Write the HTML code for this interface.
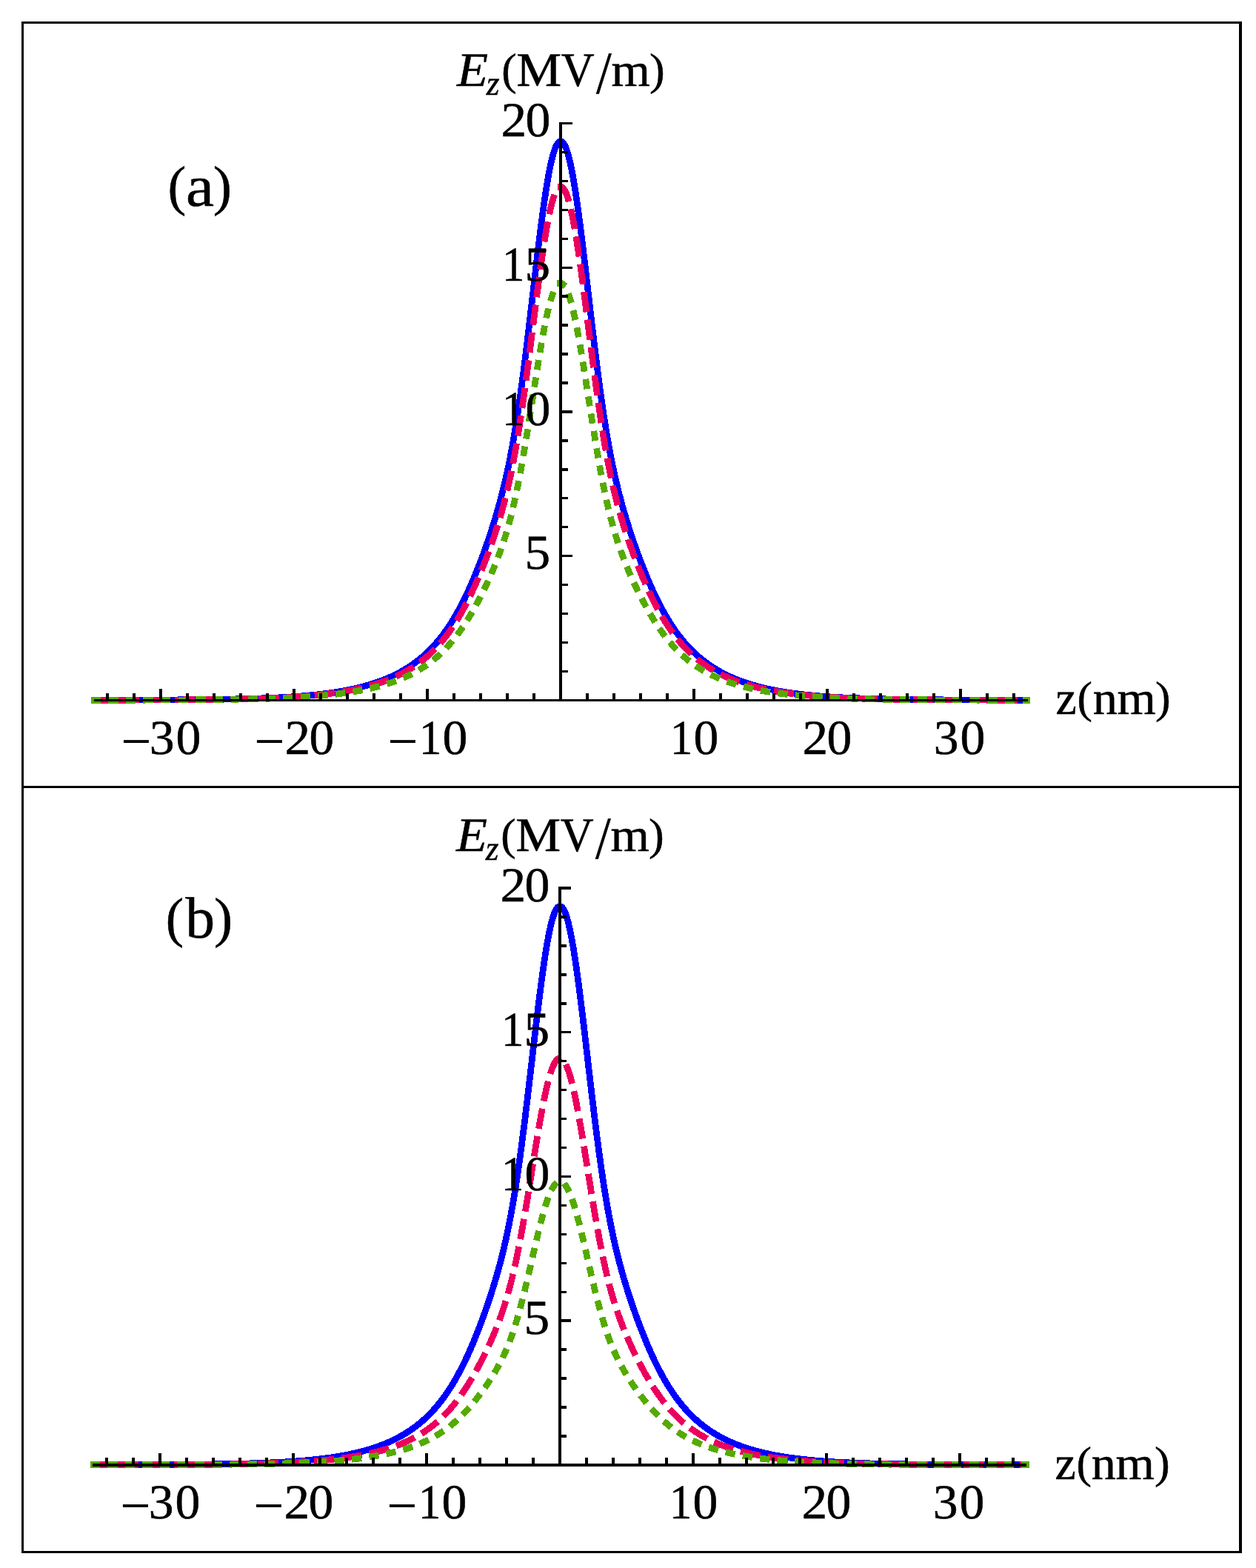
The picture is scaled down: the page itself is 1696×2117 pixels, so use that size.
<!DOCTYPE html>
<html lang="en">
<head>
<meta charset="utf-8">
<title>Ez field profiles</title>
<style>
html,body{margin:0;padding:0;background:#fff;}
body{width:1696px;height:2117px;overflow:hidden;}
svg{display:block;}
</style>
</head>
<body>
<svg width="1696" height="2117" viewBox="0 0 1696 2117">
<rect x="0" y="0" width="1696" height="2117" fill="#fff"/>
<g fill="#000" shape-rendering="crispEdges">
<rect x="29" y="29" width="1648" height="3"/>
<rect x="29" y="2094" width="1648" height="3"/>
<rect x="29" y="29" width="3" height="2068"/>
<rect x="1673" y="29" width="4" height="2068"/>
<rect x="29" y="1061" width="1648" height="3"/>
</g>
<g fill="none" stroke-width="8.7" stroke-linecap="square" stroke-linejoin="round" shape-rendering="crispEdges">
<path stroke="#0000ff" d="M127.00 945.25L128.80 945.24L130.60 945.24L132.40 945.24L134.20 945.24L136.00 945.23L137.80 945.23L139.60 945.23L141.40 945.23L143.20 945.22L145.00 945.22L146.80 945.22L148.60 945.21L150.40 945.21L152.20 945.21L154.00 945.20L155.80 945.20L157.60 945.20L159.40 945.19L161.20 945.19L163.00 945.18L164.80 945.18L166.60 945.17L168.40 945.17L170.20 945.17L172.00 945.16L173.80 945.16L175.60 945.15L177.40 945.15L179.20 945.14L181.00 945.14L182.80 945.13L184.60 945.13L186.40 945.12L188.20 945.11L190.00 945.11L191.80 945.10L193.60 945.10L195.40 945.09L197.20 945.08L199.00 945.08L200.80 945.07L202.60 945.06L204.40 945.05L206.20 945.05L208.00 945.04L209.80 945.03L211.60 945.02L213.40 945.01L215.20 945.00L217.00 945.00L218.80 944.99L220.60 944.98L222.40 944.97L224.20 944.96L226.00 944.95L227.80 944.94L229.60 944.93L231.40 944.92L233.20 944.90L235.00 944.89L236.80 944.88L238.60 944.87L240.40 944.86L242.20 944.84L244.00 944.83L245.80 944.82L247.60 944.80L249.40 944.79L251.20 944.77L253.00 944.76L254.80 944.74L256.60 944.73L258.40 944.71L260.20 944.69L262.00 944.68L263.80 944.66L265.60 944.64L267.40 944.62L269.20 944.60L271.00 944.59L272.80 944.56L274.60 944.54L276.40 944.52L278.20 944.50L280.00 944.48L281.80 944.46L283.60 944.43L285.40 944.41L287.20 944.38L289.00 944.36L290.80 944.33L292.60 944.31L294.40 944.28L296.20 944.25L298.00 944.22L299.80 944.19L301.60 944.16L303.40 944.13L305.20 944.10L307.00 944.07L308.80 944.03L310.60 944.00L312.40 943.96L314.20 943.92L316.00 943.89L317.80 943.85L319.60 943.81L321.40 943.77L323.20 943.73L325.00 943.68L326.80 943.64L328.60 943.59L330.40 943.55L332.20 943.50L334.00 943.45L335.80 943.40L337.60 943.35L339.40 943.30L341.20 943.24L343.00 943.19L344.80 943.13L346.60 943.07L348.40 943.01L350.20 942.95L352.00 942.89L353.80 942.82L355.60 942.75L357.40 942.68L359.20 942.61L361.00 942.54L362.80 942.47L364.60 942.39L366.40 942.31L368.20 942.23L370.00 942.15L371.80 942.07L373.60 941.98L375.40 941.89L377.20 941.80L379.00 941.70L380.80 941.61L382.60 941.51L384.40 941.41L386.20 941.30L388.00 941.19L389.80 941.08L391.60 940.97L393.40 940.86L395.20 940.74L397.00 940.61L398.80 940.49L400.60 940.35L402.40 940.22L404.20 940.08L406.00 939.94L407.80 939.79L409.60 939.64L411.40 939.49L413.20 939.33L415.00 939.16L416.80 939.00L418.60 938.83L420.40 938.65L422.20 938.47L424.00 938.29L425.80 938.10L427.60 937.90L429.40 937.70L431.20 937.50L433.00 937.29L434.80 937.07L436.60 936.85L438.40 936.63L440.20 936.39L442.00 936.15L443.80 935.91L445.60 935.66L447.40 935.40L449.20 935.14L451.00 934.87L452.80 934.59L454.60 934.30L456.40 934.01L458.20 933.71L460.00 933.40L461.80 933.09L463.60 932.77L465.40 932.43L467.20 932.09L469.00 931.75L470.80 931.39L472.60 931.02L474.40 930.64L476.20 930.26L478.00 929.86L479.80 929.46L481.60 929.04L483.40 928.61L485.20 928.17L487.00 927.72L488.80 927.26L490.60 926.79L492.40 926.30L494.20 925.80L496.00 925.29L497.80 924.77L499.60 924.23L501.40 923.68L503.20 923.12L505.00 922.53L506.80 921.94L508.60 921.33L510.40 920.70L512.20 920.06L514.00 919.40L515.80 918.72L517.60 918.02L519.40 917.31L521.20 916.58L523.00 915.83L524.80 915.06L526.60 914.27L528.40 913.45L530.20 912.62L532.00 911.76L533.80 910.88L535.60 909.98L537.40 909.05L539.20 908.10L541.00 907.12L542.80 906.12L544.60 905.09L546.40 904.03L548.20 902.94L550.00 901.83L551.80 900.68L553.60 899.50L555.40 898.29L557.20 897.05L559.00 895.77L560.80 894.45L562.60 893.10L564.40 891.71L566.20 890.29L568.00 888.82L569.80 887.31L571.60 885.76L573.40 884.16L575.20 882.52L577.00 880.84L578.80 879.10L580.60 877.32L582.40 875.48L584.20 873.59L586.00 871.65L587.80 869.65L589.60 867.59L591.40 865.47L593.20 863.29L595.00 861.05L596.80 858.74L598.60 856.36L600.40 853.92L602.20 851.41L604.00 848.83L605.80 846.17L607.60 843.44L609.40 840.63L611.20 837.75L613.00 834.79L614.80 831.74L616.60 828.62L618.40 825.41L620.20 822.11L622.00 818.73L623.80 815.27L625.60 811.72L627.40 808.08L629.20 804.35L631.00 800.54L632.80 796.63L634.60 792.64L636.40 788.56L638.20 784.40L640.00 780.14L641.80 775.81L643.60 771.38L645.40 766.88L647.20 762.28L649.00 757.61L650.80 752.84L652.60 747.98L654.40 743.03L656.20 737.99L658.00 732.85L659.80 727.60L661.60 722.23L663.40 716.75L665.20 711.14L667.00 705.39L668.80 699.49L670.60 693.43L672.40 687.19L674.20 680.76L676.00 674.11L677.80 667.23L679.60 660.09L681.40 652.66L683.20 644.92L685.00 636.83L686.80 628.36L688.60 619.47L690.40 610.14L692.20 600.34L694.00 590.05L695.80 579.26L697.60 567.96L699.40 556.15L701.20 543.83L703.00 531.04L704.80 517.78L706.60 504.10L708.40 490.01L710.20 475.56L712.00 460.79L713.80 445.74L715.60 430.48L717.40 415.07L719.20 399.57L721.00 384.05L722.80 368.61L724.60 353.31L726.40 338.24L728.20 323.48L730.00 309.12L730.36 306.31L730.72 303.51L731.08 300.74L731.44 297.98L731.80 295.25L732.16 292.54L732.52 289.86L732.88 287.19L733.24 284.56L733.60 281.95L733.96 279.36L734.32 276.80L734.68 274.27L735.04 271.77L735.40 269.29L735.76 266.85L736.12 264.43L736.48 262.04L736.84 259.69L737.20 257.37L737.56 255.08L737.92 252.82L738.28 250.59L738.64 248.40L739.00 246.24L739.36 244.12L739.72 242.04L740.08 239.99L740.44 237.97L740.80 236.00L741.16 234.06L741.52 232.15L741.88 230.29L742.24 228.47L742.60 226.68L742.96 224.94L743.32 223.23L743.68 221.57L744.04 219.95L744.40 218.36L744.76 216.82L745.12 215.33L745.48 213.87L745.84 212.46L746.20 211.09L746.56 209.76L746.92 208.48L747.28 207.24L747.64 206.04L748.00 204.89L748.36 203.79L748.72 202.73L749.08 201.71L749.44 200.74L749.80 199.82L750.16 198.94L750.52 198.10L750.88 197.31L751.24 196.57L751.60 195.88L751.96 195.23L752.32 194.62L752.68 194.07L753.04 193.55L753.40 193.09L753.76 192.67L754.12 192.30L754.48 191.97L754.84 191.69L755.20 191.46L755.56 191.27L755.92 191.14L756.28 191.14L756.64 191.14L757.00 191.14L757.36 191.14L757.72 191.14L758.08 191.14L758.44 191.27L758.80 191.46L759.16 191.69L759.52 191.97L759.88 192.30L760.24 192.67L760.60 193.09L760.96 193.55L761.32 194.07L761.68 194.62L762.04 195.23L762.40 195.88L762.76 196.57L763.12 197.31L763.48 198.10L763.84 198.94L764.20 199.82L764.56 200.74L764.92 201.71L765.28 202.73L765.64 203.79L766.00 204.89L766.36 206.04L766.72 207.24L767.08 208.48L767.44 209.76L767.80 211.09L768.16 212.46L768.52 213.87L768.88 215.33L769.24 216.82L769.60 218.36L769.96 219.95L770.32 221.57L770.68 223.23L771.04 224.94L771.40 226.68L771.76 228.47L772.12 230.29L772.48 232.15L772.84 234.06L773.20 236.00L773.56 237.97L773.92 239.99L774.28 242.04L774.64 244.12L775.00 246.24L775.36 248.40L775.72 250.59L776.08 252.82L776.44 255.08L776.80 257.37L777.16 259.69L777.52 262.04L777.88 264.43L778.24 266.85L778.60 269.29L778.96 271.77L779.32 274.27L779.68 276.80L780.04 279.36L780.40 281.95L780.76 284.56L781.12 287.19L781.48 289.86L781.84 292.54L782.20 295.25L782.56 297.98L782.92 300.74L783.28 303.51L783.64 306.31L784.00 309.12L785.80 323.48L787.60 338.24L789.40 353.31L791.20 368.61L793.00 384.05L794.80 399.57L796.60 415.07L798.40 430.48L800.20 445.74L802.00 460.79L803.80 475.56L805.60 490.01L807.40 504.10L809.20 517.78L811.00 531.04L812.80 543.83L814.60 556.15L816.40 567.96L818.20 579.26L820.00 590.05L821.80 600.34L823.60 610.14L825.40 619.47L827.20 628.36L829.00 636.83L830.80 644.92L832.60 652.66L834.40 660.09L836.20 667.23L838.00 674.11L839.80 680.76L841.60 687.19L843.40 693.43L845.20 699.49L847.00 705.39L848.80 711.14L850.60 716.75L852.40 722.23L854.20 727.60L856.00 732.85L857.80 737.99L859.60 743.03L861.40 747.98L863.20 752.84L865.00 757.61L866.80 762.28L868.60 766.88L870.40 771.38L872.20 775.81L874.00 780.14L875.80 784.40L877.60 788.56L879.40 792.64L881.20 796.63L883.00 800.54L884.80 804.35L886.60 808.08L888.40 811.72L890.20 815.27L892.00 818.73L893.80 822.11L895.60 825.41L897.40 828.62L899.20 831.74L901.00 834.79L902.80 837.75L904.60 840.63L906.40 843.44L908.20 846.17L910.00 848.83L911.80 851.41L913.60 853.92L915.40 856.36L917.20 858.74L919.00 861.05L920.80 863.29L922.60 865.47L924.40 867.59L926.20 869.65L928.00 871.65L929.80 873.59L931.60 875.48L933.40 877.32L935.20 879.10L937.00 880.84L938.80 882.52L940.60 884.16L942.40 885.76L944.20 887.31L946.00 888.82L947.80 890.29L949.60 891.71L951.40 893.10L953.20 894.45L955.00 895.77L956.80 897.05L958.60 898.29L960.40 899.50L962.20 900.68L964.00 901.83L965.80 902.94L967.60 904.03L969.40 905.09L971.20 906.12L973.00 907.12L974.80 908.10L976.60 909.05L978.40 909.98L980.20 910.88L982.00 911.76L983.80 912.62L985.60 913.45L987.40 914.27L989.20 915.06L991.00 915.83L992.80 916.58L994.60 917.31L996.40 918.02L998.20 918.72L1000.00 919.40L1001.80 920.06L1003.60 920.70L1005.40 921.33L1007.20 921.94L1009.00 922.53L1010.80 923.12L1012.60 923.68L1014.40 924.23L1016.20 924.77L1018.00 925.29L1019.80 925.80L1021.60 926.30L1023.40 926.79L1025.20 927.26L1027.00 927.72L1028.80 928.17L1030.60 928.61L1032.40 929.04L1034.20 929.46L1036.00 929.86L1037.80 930.26L1039.60 930.64L1041.40 931.02L1043.20 931.39L1045.00 931.75L1046.80 932.09L1048.60 932.43L1050.40 932.77L1052.20 933.09L1054.00 933.40L1055.80 933.71L1057.60 934.01L1059.40 934.30L1061.20 934.59L1063.00 934.87L1064.80 935.14L1066.60 935.40L1068.40 935.66L1070.20 935.91L1072.00 936.15L1073.80 936.39L1075.60 936.63L1077.40 936.85L1079.20 937.07L1081.00 937.29L1082.80 937.50L1084.60 937.70L1086.40 937.90L1088.20 938.10L1090.00 938.29L1091.80 938.47L1093.60 938.65L1095.40 938.83L1097.20 939.00L1099.00 939.16L1100.80 939.33L1102.60 939.49L1104.40 939.64L1106.20 939.79L1108.00 939.94L1109.80 940.08L1111.60 940.22L1113.40 940.35L1115.20 940.49L1117.00 940.61L1118.80 940.74L1120.60 940.86L1122.40 940.97L1124.20 941.08L1126.00 941.19L1127.80 941.30L1129.60 941.41L1131.40 941.51L1133.20 941.61L1135.00 941.70L1136.80 941.80L1138.60 941.89L1140.40 941.98L1142.20 942.07L1144.00 942.15L1145.80 942.23L1147.60 942.31L1149.40 942.39L1151.20 942.47L1153.00 942.54L1154.80 942.61L1156.60 942.68L1158.40 942.75L1160.20 942.82L1162.00 942.89L1163.80 942.95L1165.60 943.01L1167.40 943.07L1169.20 943.13L1171.00 943.19L1172.80 943.24L1174.60 943.30L1176.40 943.35L1178.20 943.40L1180.00 943.45L1181.80 943.50L1183.60 943.55L1185.40 943.59L1187.20 943.64L1189.00 943.68L1190.80 943.73L1192.60 943.77L1194.40 943.81L1196.20 943.85L1198.00 943.89L1199.80 943.92L1201.60 943.96L1203.40 944.00L1205.20 944.03L1207.00 944.07L1208.80 944.10L1210.60 944.13L1212.40 944.16L1214.20 944.19L1216.00 944.22L1217.80 944.25L1219.60 944.28L1221.40 944.31L1223.20 944.33L1225.00 944.36L1226.80 944.38L1228.60 944.41L1230.40 944.43L1232.20 944.46L1234.00 944.48L1235.80 944.50L1237.60 944.52L1239.40 944.54L1241.20 944.56L1243.00 944.59L1244.80 944.60L1246.60 944.62L1248.40 944.64L1250.20 944.66L1252.00 944.68L1253.80 944.69L1255.60 944.71L1257.40 944.73L1259.20 944.74L1261.00 944.76L1262.80 944.77L1264.60 944.79L1266.40 944.80L1268.20 944.82L1270.00 944.83L1271.80 944.84L1273.60 944.86L1275.40 944.87L1277.20 944.88L1279.00 944.89L1280.80 944.90L1282.60 944.92L1284.40 944.93L1286.20 944.94L1288.00 944.95L1289.80 944.96L1291.60 944.97L1293.40 944.98L1295.20 944.99L1297.00 945.00L1298.80 945.00L1300.60 945.01L1302.40 945.02L1304.20 945.03L1306.00 945.04L1307.80 945.05L1309.60 945.05L1311.40 945.06L1313.20 945.07L1315.00 945.08L1316.80 945.08L1318.60 945.09L1320.40 945.10L1322.20 945.10L1324.00 945.11L1325.80 945.11L1327.60 945.12L1329.40 945.13L1331.20 945.13L1333.00 945.14L1334.80 945.14L1336.60 945.15L1338.40 945.15L1340.20 945.16L1342.00 945.16L1343.80 945.17L1345.60 945.17L1347.40 945.17L1349.20 945.18L1351.00 945.18L1352.80 945.19L1354.60 945.19L1356.40 945.20L1358.20 945.20L1360.00 945.20L1361.80 945.21L1363.60 945.21L1365.40 945.21L1367.20 945.22L1369.00 945.22L1370.80 945.22L1372.60 945.23L1374.40 945.23L1376.20 945.23L1378.00 945.23L1379.80 945.24L1381.60 945.24L1383.40 945.24L1385.20 945.24L1387.00 945.25"/>
<path stroke="#eb005e" stroke-dasharray="18.85 18.92" d="M127.00 945.25L128.80 945.25L130.60 945.25L132.40 945.25L134.20 945.25L136.00 945.24L137.80 945.24L139.60 945.24L141.40 945.23L143.20 945.23L145.00 945.23L146.80 945.23L148.60 945.22L150.40 945.22L152.20 945.22L154.00 945.21L155.80 945.21L157.60 945.21L159.40 945.20L161.20 945.20L163.00 945.20L164.80 945.19L166.60 945.19L168.40 945.18L170.20 945.18L172.00 945.18L173.80 945.17L175.60 945.17L177.40 945.16L179.20 945.16L181.00 945.15L182.80 945.15L184.60 945.14L186.40 945.14L188.20 945.13L190.00 945.13L191.80 945.12L193.60 945.12L195.40 945.11L197.20 945.10L199.00 945.10L200.80 945.09L202.60 945.08L204.40 945.08L206.20 945.07L208.00 945.06L209.80 945.06L211.60 945.05L213.40 945.04L215.20 945.03L217.00 945.02L218.80 945.02L220.60 945.01L222.40 945.00L224.20 944.99L226.00 944.98L227.80 944.97L229.60 944.96L231.40 944.95L233.20 944.94L235.00 944.93L236.80 944.92L238.60 944.91L240.40 944.90L242.20 944.88L244.00 944.87L245.80 944.86L247.60 944.85L249.40 944.83L251.20 944.82L253.00 944.81L254.80 944.79L256.60 944.78L258.40 944.76L260.20 944.75L262.00 944.73L263.80 944.72L265.60 944.70L267.40 944.68L269.20 944.66L271.00 944.65L272.80 944.63L274.60 944.61L276.40 944.59L278.20 944.57L280.00 944.55L281.80 944.53L283.60 944.51L285.40 944.48L287.20 944.46L289.00 944.44L290.80 944.41L292.60 944.39L294.40 944.36L296.20 944.34L298.00 944.31L299.80 944.29L301.60 944.26L303.40 944.23L305.20 944.20L307.00 944.17L308.80 944.14L310.60 944.11L312.40 944.07L314.20 944.04L316.00 944.00L317.80 943.97L319.60 943.93L321.40 943.90L323.20 943.86L325.00 943.82L326.80 943.78L328.60 943.74L330.40 943.69L332.20 943.65L334.00 943.60L335.80 943.56L337.60 943.51L339.40 943.46L341.20 943.41L343.00 943.36L344.80 943.31L346.60 943.26L348.40 943.20L350.20 943.14L352.00 943.08L353.80 943.03L355.60 942.96L357.40 942.90L359.20 942.84L361.00 942.77L362.80 942.70L364.60 942.63L366.40 942.56L368.20 942.49L370.00 942.41L371.80 942.33L373.60 942.25L375.40 942.17L377.20 942.09L379.00 942.00L380.80 941.91L382.60 941.82L384.40 941.73L386.20 941.63L388.00 941.53L389.80 941.43L391.60 941.33L393.40 941.22L395.20 941.11L397.00 941.00L398.80 940.88L400.60 940.76L402.40 940.63L404.20 940.51L406.00 940.38L407.80 940.24L409.60 940.10L411.40 939.96L413.20 939.82L415.00 939.67L416.80 939.51L418.60 939.36L420.40 939.19L422.20 939.03L424.00 938.86L425.80 938.69L427.60 938.51L429.40 938.32L431.20 938.14L433.00 937.94L434.80 937.74L436.60 937.54L438.40 937.33L440.20 937.12L442.00 936.90L443.80 936.68L445.60 936.45L447.40 936.21L449.20 935.97L451.00 935.72L452.80 935.46L454.60 935.20L456.40 934.93L458.20 934.66L460.00 934.37L461.80 934.09L463.60 933.79L465.40 933.48L467.20 933.17L469.00 932.85L470.80 932.52L472.60 932.18L474.40 931.84L476.20 931.48L478.00 931.12L479.80 930.75L481.60 930.36L483.40 929.97L485.20 929.57L487.00 929.15L488.80 928.73L490.60 928.30L492.40 927.85L494.20 927.39L496.00 926.92L497.80 926.44L499.60 925.95L501.40 925.44L503.20 924.92L505.00 924.39L506.80 923.84L508.60 923.28L510.40 922.70L512.20 922.11L514.00 921.51L515.80 920.88L517.60 920.25L519.40 919.59L521.20 918.92L523.00 918.23L524.80 917.52L526.60 916.79L528.40 916.04L530.20 915.28L532.00 914.49L533.80 913.68L535.60 912.85L537.40 912.00L539.20 911.13L541.00 910.23L542.80 909.31L544.60 908.36L546.40 907.39L548.20 906.39L550.00 905.36L551.80 904.31L553.60 903.23L555.40 902.11L557.20 900.97L559.00 899.80L560.80 898.59L562.60 897.35L564.40 896.07L566.20 894.76L568.00 893.41L569.80 892.03L571.60 890.60L573.40 889.14L575.20 887.63L577.00 886.08L578.80 884.49L580.60 882.85L582.40 881.16L584.20 879.42L586.00 877.64L587.80 875.80L589.60 873.91L591.40 871.96L593.20 869.96L595.00 867.90L596.80 865.78L598.60 863.60L600.40 861.35L602.20 859.05L604.00 856.67L605.80 854.23L607.60 851.72L609.40 849.14L611.20 846.49L613.00 843.77L614.80 840.98L616.60 838.10L618.40 835.15L620.20 832.13L622.00 829.02L623.80 825.84L625.60 822.58L627.40 819.23L629.20 815.81L631.00 812.31L632.80 808.72L634.60 805.05L636.40 801.30L638.20 797.48L640.00 793.57L641.80 789.59L643.60 785.52L645.40 781.38L647.20 777.16L649.00 772.86L650.80 768.49L652.60 764.02L654.40 759.48L656.20 754.84L658.00 750.12L659.80 745.29L661.60 740.37L663.40 735.33L665.20 730.18L667.00 724.90L668.80 719.48L670.60 713.91L672.40 708.18L674.20 702.26L676.00 696.16L677.80 689.83L679.60 683.27L681.40 676.45L683.20 669.34L685.00 661.91L686.80 654.12L688.60 645.96L690.40 637.39L692.20 628.38L694.00 618.93L695.80 609.02L697.60 598.63L699.40 587.78L701.20 576.47L703.00 564.71L704.80 552.54L706.60 539.96L708.40 527.02L710.20 513.74L712.00 500.17L713.80 486.35L715.60 472.33L717.40 458.17L719.20 443.93L721.00 429.67L722.80 415.48L724.60 401.43L726.40 387.58L728.20 374.02L730.00 360.83L730.36 358.25L730.72 355.68L731.08 353.13L731.44 350.60L731.80 348.09L732.16 345.60L732.52 343.13L732.88 340.69L733.24 338.26L733.60 335.87L733.96 333.49L734.32 331.14L734.68 328.81L735.04 326.51L735.40 324.24L735.76 321.99L736.12 319.77L736.48 317.58L736.84 315.42L737.20 313.28L737.56 311.18L737.92 309.10L738.28 307.06L738.64 305.05L739.00 303.07L739.36 301.12L739.72 299.20L740.08 297.32L740.44 295.47L740.80 293.65L741.16 291.87L741.52 290.12L741.88 288.41L742.24 286.73L742.60 285.09L742.96 283.49L743.32 281.92L743.68 280.40L744.04 278.90L744.40 277.45L744.76 276.04L745.12 274.66L745.48 273.32L745.84 272.02L746.20 270.77L746.56 269.55L746.92 268.37L747.28 267.23L747.64 266.13L748.00 265.08L748.36 264.06L748.72 263.09L749.08 262.15L749.44 261.26L749.80 260.41L750.16 259.60L750.52 258.84L750.88 258.11L751.24 257.43L751.60 256.79L751.96 256.19L752.32 255.64L752.68 255.13L753.04 254.66L753.40 254.23L753.76 253.85L754.12 253.50L754.48 253.20L754.84 252.95L755.20 252.73L755.56 252.56L755.92 252.44L756.28 252.44L756.64 252.44L757.00 252.44L757.36 252.44L757.72 252.44L758.08 252.44L758.44 252.56L758.80 252.73L759.16 252.95L759.52 253.20L759.88 253.50L760.24 253.85L760.60 254.23L760.96 254.66L761.32 255.13L761.68 255.64L762.04 256.19L762.40 256.79L762.76 257.43L763.12 258.11L763.48 258.84L763.84 259.60L764.20 260.41L764.56 261.26L764.92 262.15L765.28 263.09L765.64 264.06L766.00 265.08L766.36 266.13L766.72 267.23L767.08 268.37L767.44 269.55L767.80 270.77L768.16 272.02L768.52 273.32L768.88 274.66L769.24 276.04L769.60 277.45L769.96 278.90L770.32 280.40L770.68 281.92L771.04 283.49L771.40 285.09L771.76 286.73L772.12 288.41L772.48 290.12L772.84 291.87L773.20 293.65L773.56 295.47L773.92 297.32L774.28 299.20L774.64 301.12L775.00 303.07L775.36 305.05L775.72 307.06L776.08 309.10L776.44 311.18L776.80 313.28L777.16 315.42L777.52 317.58L777.88 319.77L778.24 321.99L778.60 324.24L778.96 326.51L779.32 328.81L779.68 331.14L780.04 333.49L780.40 335.87L780.76 338.26L781.12 340.69L781.48 343.13L781.84 345.60L782.20 348.09L782.56 350.60L782.92 353.13L783.28 355.68L783.64 358.25L784.00 360.83L785.80 374.02L787.60 387.58L789.40 401.43L791.20 415.48L793.00 429.67L794.80 443.93L796.60 458.17L798.40 472.33L800.20 486.35L802.00 500.17L803.80 513.74L805.60 527.02L807.40 539.96L809.20 552.54L811.00 564.71L812.80 576.47L814.60 587.78L816.40 598.63L818.20 609.02L820.00 618.93L821.80 628.38L823.60 637.39L825.40 645.96L827.20 654.12L829.00 661.91L830.80 669.34L832.60 676.45L834.40 683.27L836.20 689.83L838.00 696.16L839.80 702.26L841.60 708.18L843.40 713.91L845.20 719.48L847.00 724.90L848.80 730.18L850.60 735.33L852.40 740.37L854.20 745.29L856.00 750.12L857.80 754.84L859.60 759.48L861.40 764.02L863.20 768.49L865.00 772.86L866.80 777.16L868.60 781.38L870.40 785.52L872.20 789.59L874.00 793.57L875.80 797.48L877.60 801.30L879.40 805.05L881.20 808.72L883.00 812.31L884.80 815.81L886.60 819.23L888.40 822.58L890.20 825.84L892.00 829.02L893.80 832.13L895.60 835.15L897.40 838.10L899.20 840.98L901.00 843.77L902.80 846.49L904.60 849.14L906.40 851.72L908.20 854.23L910.00 856.67L911.80 859.05L913.60 861.35L915.40 863.60L917.20 865.78L919.00 867.90L920.80 869.96L922.60 871.96L924.40 873.91L926.20 875.80L928.00 877.64L929.80 879.42L931.60 881.16L933.40 882.85L935.20 884.49L937.00 886.08L938.80 887.63L940.60 889.14L942.40 890.60L944.20 892.03L946.00 893.41L947.80 894.76L949.60 896.07L951.40 897.35L953.20 898.59L955.00 899.80L956.80 900.97L958.60 902.11L960.40 903.23L962.20 904.31L964.00 905.36L965.80 906.39L967.60 907.39L969.40 908.36L971.20 909.31L973.00 910.23L974.80 911.13L976.60 912.00L978.40 912.85L980.20 913.68L982.00 914.49L983.80 915.28L985.60 916.04L987.40 916.79L989.20 917.52L991.00 918.23L992.80 918.92L994.60 919.59L996.40 920.25L998.20 920.88L1000.00 921.51L1001.80 922.11L1003.60 922.70L1005.40 923.28L1007.20 923.84L1009.00 924.39L1010.80 924.92L1012.60 925.44L1014.40 925.95L1016.20 926.44L1018.00 926.92L1019.80 927.39L1021.60 927.85L1023.40 928.30L1025.20 928.73L1027.00 929.15L1028.80 929.57L1030.60 929.97L1032.40 930.36L1034.20 930.75L1036.00 931.12L1037.80 931.48L1039.60 931.84L1041.40 932.18L1043.20 932.52L1045.00 932.85L1046.80 933.17L1048.60 933.48L1050.40 933.79L1052.20 934.09L1054.00 934.37L1055.80 934.66L1057.60 934.93L1059.40 935.20L1061.20 935.46L1063.00 935.72L1064.80 935.97L1066.60 936.21L1068.40 936.45L1070.20 936.68L1072.00 936.90L1073.80 937.12L1075.60 937.33L1077.40 937.54L1079.20 937.74L1081.00 937.94L1082.80 938.14L1084.60 938.32L1086.40 938.51L1088.20 938.69L1090.00 938.86L1091.80 939.03L1093.60 939.19L1095.40 939.36L1097.20 939.51L1099.00 939.67L1100.80 939.82L1102.60 939.96L1104.40 940.10L1106.20 940.24L1108.00 940.38L1109.80 940.51L1111.60 940.63L1113.40 940.76L1115.20 940.88L1117.00 941.00L1118.80 941.11L1120.60 941.22L1122.40 941.33L1124.20 941.43L1126.00 941.53L1127.80 941.63L1129.60 941.73L1131.40 941.82L1133.20 941.91L1135.00 942.00L1136.80 942.09L1138.60 942.17L1140.40 942.25L1142.20 942.33L1144.00 942.41L1145.80 942.49L1147.60 942.56L1149.40 942.63L1151.20 942.70L1153.00 942.77L1154.80 942.84L1156.60 942.90L1158.40 942.96L1160.20 943.03L1162.00 943.08L1163.80 943.14L1165.60 943.20L1167.40 943.26L1169.20 943.31L1171.00 943.36L1172.80 943.41L1174.60 943.46L1176.40 943.51L1178.20 943.56L1180.00 943.60L1181.80 943.65L1183.60 943.69L1185.40 943.74L1187.20 943.78L1189.00 943.82L1190.80 943.86L1192.60 943.90L1194.40 943.93L1196.20 943.97L1198.00 944.00L1199.80 944.04L1201.60 944.07L1203.40 944.11L1205.20 944.14L1207.00 944.17L1208.80 944.20L1210.60 944.23L1212.40 944.26L1214.20 944.29L1216.00 944.31L1217.80 944.34L1219.60 944.36L1221.40 944.39L1223.20 944.41L1225.00 944.44L1226.80 944.46L1228.60 944.48L1230.40 944.51L1232.20 944.53L1234.00 944.55L1235.80 944.57L1237.60 944.59L1239.40 944.61L1241.20 944.63L1243.00 944.65L1244.80 944.66L1246.60 944.68L1248.40 944.70L1250.20 944.72L1252.00 944.73L1253.80 944.75L1255.60 944.76L1257.40 944.78L1259.20 944.79L1261.00 944.81L1262.80 944.82L1264.60 944.83L1266.40 944.85L1268.20 944.86L1270.00 944.87L1271.80 944.88L1273.60 944.90L1275.40 944.91L1277.20 944.92L1279.00 944.93L1280.80 944.94L1282.60 944.95L1284.40 944.96L1286.20 944.97L1288.00 944.98L1289.80 944.99L1291.60 945.00L1293.40 945.01L1295.20 945.02L1297.00 945.02L1298.80 945.03L1300.60 945.04L1302.40 945.05L1304.20 945.06L1306.00 945.06L1307.80 945.07L1309.60 945.08L1311.40 945.08L1313.20 945.09L1315.00 945.10L1316.80 945.10L1318.60 945.11L1320.40 945.12L1322.20 945.12L1324.00 945.13L1325.80 945.13L1327.60 945.14L1329.40 945.14L1331.20 945.15L1333.00 945.15L1334.80 945.16L1336.60 945.16L1338.40 945.17L1340.20 945.17L1342.00 945.18L1343.80 945.18L1345.60 945.18L1347.40 945.19L1349.20 945.19L1351.00 945.20L1352.80 945.20L1354.60 945.20L1356.40 945.21L1358.20 945.21L1360.00 945.21L1361.80 945.22L1363.60 945.22L1365.40 945.22L1367.20 945.23L1369.00 945.23L1370.80 945.23L1372.60 945.23L1374.40 945.24L1376.20 945.24L1378.00 945.24L1379.80 945.25L1381.60 945.25L1383.40 945.25L1385.20 945.25L1387.00 945.25"/>
<path stroke="#55aa00" stroke-dasharray="4.67 18.94" d="M127.00 945.27L128.80 945.27L130.60 945.27L132.40 945.27L134.20 945.26L136.00 945.26L137.80 945.26L139.60 945.26L141.40 945.25L143.20 945.25L145.00 945.25L146.80 945.25L148.60 945.25L150.40 945.24L152.20 945.24L154.00 945.24L155.80 945.23L157.60 945.23L159.40 945.23L161.20 945.23L163.00 945.22L164.80 945.22L166.60 945.22L168.40 945.21L170.20 945.21L172.00 945.21L173.80 945.20L175.60 945.20L177.40 945.20L179.20 945.19L181.00 945.19L182.80 945.18L184.60 945.18L186.40 945.18L188.20 945.17L190.00 945.17L191.80 945.16L193.60 945.16L195.40 945.15L197.20 945.15L199.00 945.14L200.80 945.14L202.60 945.13L204.40 945.13L206.20 945.12L208.00 945.11L209.80 945.11L211.60 945.10L213.40 945.10L215.20 945.09L217.00 945.08L218.80 945.08L220.60 945.07L222.40 945.06L224.20 945.05L226.00 945.05L227.80 945.04L229.60 945.03L231.40 945.02L233.20 945.02L235.00 945.01L236.80 945.00L238.60 944.99L240.40 944.98L242.20 944.97L244.00 944.96L245.80 944.95L247.60 944.94L249.40 944.93L251.20 944.92L253.00 944.91L254.80 944.89L256.60 944.88L258.40 944.87L260.20 944.86L262.00 944.85L263.80 944.83L265.60 944.82L267.40 944.81L269.20 944.79L271.00 944.78L272.80 944.76L274.60 944.75L276.40 944.73L278.20 944.71L280.00 944.70L281.80 944.68L283.60 944.66L285.40 944.65L287.20 944.63L289.00 944.61L290.80 944.59L292.60 944.57L294.40 944.55L296.20 944.53L298.00 944.51L299.80 944.48L301.60 944.46L303.40 944.44L305.20 944.41L307.00 944.39L308.80 944.36L310.60 944.34L312.40 944.31L314.20 944.28L316.00 944.26L317.80 944.23L319.60 944.20L321.40 944.17L323.20 944.14L325.00 944.10L326.80 944.07L328.60 944.04L330.40 944.00L332.20 943.97L334.00 943.93L335.80 943.89L337.60 943.85L339.40 943.82L341.20 943.77L343.00 943.73L344.80 943.69L346.60 943.65L348.40 943.60L350.20 943.56L352.00 943.51L353.80 943.46L355.60 943.41L357.40 943.36L359.20 943.31L361.00 943.25L362.80 943.20L364.60 943.14L366.40 943.08L368.20 943.02L370.00 942.96L371.80 942.90L373.60 942.83L375.40 942.77L377.20 942.70L379.00 942.63L380.80 942.55L382.60 942.48L384.40 942.40L386.20 942.33L388.00 942.25L389.80 942.16L391.60 942.08L393.40 941.99L395.20 941.91L397.00 941.81L398.80 941.72L400.60 941.62L402.40 941.52L404.20 941.41L406.00 941.31L407.80 941.20L409.60 941.09L411.40 940.97L413.20 940.85L415.00 940.73L416.80 940.61L418.60 940.48L420.40 940.35L422.20 940.21L424.00 940.08L425.80 939.94L427.60 939.79L429.40 939.64L431.20 939.49L433.00 939.33L434.80 939.17L436.60 939.01L438.40 938.84L440.20 938.66L442.00 938.49L443.80 938.30L445.60 938.12L447.40 937.92L449.20 937.73L451.00 937.52L452.80 937.32L454.60 937.10L456.40 936.89L458.20 936.66L460.00 936.43L461.80 936.20L463.60 935.96L465.40 935.71L467.20 935.46L469.00 935.20L470.80 934.93L472.60 934.65L474.40 934.37L476.20 934.09L478.00 933.79L479.80 933.49L481.60 933.18L483.40 932.86L485.20 932.53L487.00 932.19L488.80 931.85L490.60 931.50L492.40 931.13L494.20 930.76L496.00 930.38L497.80 929.99L499.60 929.59L501.40 929.18L503.20 928.76L505.00 928.32L506.80 927.88L508.60 927.42L510.40 926.95L512.20 926.47L514.00 925.98L515.80 925.48L517.60 924.96L519.40 924.42L521.20 923.88L523.00 923.32L524.80 922.74L526.60 922.15L528.40 921.54L530.20 920.92L532.00 920.28L533.80 919.63L535.60 918.95L537.40 918.26L539.20 917.55L541.00 916.82L542.80 916.07L544.60 915.30L546.40 914.51L548.20 913.70L550.00 912.87L551.80 912.01L553.60 911.13L555.40 910.23L557.20 909.30L559.00 908.35L560.80 907.37L562.60 906.36L564.40 905.32L566.20 904.26L568.00 903.16L569.80 902.04L571.60 900.88L573.40 899.69L575.20 898.47L577.00 897.21L578.80 895.91L580.60 894.58L582.40 893.21L584.20 891.80L586.00 890.35L587.80 888.85L589.60 887.32L591.40 885.74L593.20 884.11L595.00 882.44L596.80 880.72L598.60 878.94L600.40 877.12L602.20 875.25L604.00 873.32L605.80 871.34L607.60 869.30L609.40 867.21L611.20 865.05L613.00 862.84L614.80 860.57L616.60 858.24L618.40 855.84L620.20 853.39L622.00 850.86L623.80 848.28L625.60 845.63L627.40 842.91L629.20 840.13L631.00 837.28L632.80 834.37L634.60 831.39L636.40 828.35L638.20 825.24L640.00 822.07L641.80 818.83L643.60 815.53L645.40 812.17L647.20 808.74L649.00 805.25L650.80 801.69L652.60 798.07L654.40 794.38L656.20 790.61L658.00 786.77L659.80 782.85L661.60 778.85L663.40 774.76L665.20 770.58L667.00 766.29L668.80 761.89L670.60 757.36L672.40 752.71L674.20 747.90L676.00 742.94L677.80 737.81L679.60 732.48L681.40 726.94L683.20 721.16L685.00 715.12L686.80 708.80L688.60 702.17L690.40 695.21L692.20 687.90L694.00 680.22L695.80 672.17L697.60 663.73L699.40 654.92L701.20 645.73L703.00 636.18L704.80 626.29L706.60 616.08L708.40 605.56L710.20 594.78L712.00 583.76L713.80 572.53L715.60 561.14L717.40 549.64L719.20 538.07L721.00 526.50L722.80 514.97L724.60 503.55L726.40 492.31L728.20 481.29L730.00 470.58L730.36 468.48L730.72 466.39L731.08 464.32L731.44 462.27L731.80 460.23L732.16 458.21L732.52 456.20L732.88 454.22L733.24 452.25L733.60 450.30L733.96 448.37L734.32 446.46L734.68 444.57L735.04 442.71L735.40 440.86L735.76 439.03L736.12 437.23L736.48 435.45L736.84 433.69L737.20 431.96L737.56 430.25L737.92 428.56L738.28 426.90L738.64 425.27L739.00 423.66L739.36 422.08L739.72 420.52L740.08 418.99L740.44 417.49L740.80 416.01L741.16 414.56L741.52 413.15L741.88 411.76L742.24 410.39L742.60 409.06L742.96 407.76L743.32 406.49L743.68 405.25L744.04 404.04L744.40 402.85L744.76 401.71L745.12 400.59L745.48 399.50L745.84 398.45L746.20 397.42L746.56 396.43L746.92 395.48L747.28 394.55L747.64 393.66L748.00 392.80L748.36 391.98L748.72 391.19L749.08 390.43L749.44 389.70L749.80 389.01L750.16 388.36L750.52 387.74L750.88 387.15L751.24 386.59L751.60 386.07L751.96 385.59L752.32 385.14L752.68 384.72L753.04 384.34L753.40 383.99L753.76 383.68L754.12 383.40L754.48 383.16L754.84 382.95L755.20 382.78L755.56 382.63L755.92 382.54L756.28 382.54L756.64 382.54L757.00 382.54L757.36 382.54L757.72 382.54L758.08 382.54L758.44 382.63L758.80 382.78L759.16 382.95L759.52 383.16L759.88 383.40L760.24 383.68L760.60 383.99L760.96 384.34L761.32 384.72L761.68 385.14L762.04 385.59L762.40 386.07L762.76 386.59L763.12 387.15L763.48 387.74L763.84 388.36L764.20 389.01L764.56 389.70L764.92 390.43L765.28 391.19L765.64 391.98L766.00 392.80L766.36 393.66L766.72 394.55L767.08 395.48L767.44 396.43L767.80 397.42L768.16 398.45L768.52 399.50L768.88 400.59L769.24 401.71L769.60 402.85L769.96 404.04L770.32 405.25L770.68 406.49L771.04 407.76L771.40 409.06L771.76 410.39L772.12 411.76L772.48 413.15L772.84 414.56L773.20 416.01L773.56 417.49L773.92 418.99L774.28 420.52L774.64 422.08L775.00 423.66L775.36 425.27L775.72 426.90L776.08 428.56L776.44 430.25L776.80 431.96L777.16 433.69L777.52 435.45L777.88 437.23L778.24 439.03L778.60 440.86L778.96 442.71L779.32 444.57L779.68 446.46L780.04 448.37L780.40 450.30L780.76 452.25L781.12 454.22L781.48 456.20L781.84 458.21L782.20 460.23L782.56 462.27L782.92 464.32L783.28 466.39L783.64 468.48L784.00 470.58L785.80 481.29L787.60 492.31L789.40 503.55L791.20 514.97L793.00 526.50L794.80 538.07L796.60 549.64L798.40 561.14L800.20 572.53L802.00 583.76L803.80 594.78L805.60 605.56L807.40 616.08L809.20 626.29L811.00 636.18L812.80 645.73L814.60 654.92L816.40 663.73L818.20 672.17L820.00 680.22L821.80 687.90L823.60 695.21L825.40 702.17L827.20 708.80L829.00 715.12L830.80 721.16L832.60 726.94L834.40 732.48L836.20 737.81L838.00 742.94L839.80 747.90L841.60 752.71L843.40 757.36L845.20 761.89L847.00 766.29L848.80 770.58L850.60 774.76L852.40 778.85L854.20 782.85L856.00 786.77L857.80 790.61L859.60 794.38L861.40 798.07L863.20 801.69L865.00 805.25L866.80 808.74L868.60 812.17L870.40 815.53L872.20 818.83L874.00 822.07L875.80 825.24L877.60 828.35L879.40 831.39L881.20 834.37L883.00 837.28L884.80 840.13L886.60 842.91L888.40 845.63L890.20 848.28L892.00 850.86L893.80 853.39L895.60 855.84L897.40 858.24L899.20 860.57L901.00 862.84L902.80 865.05L904.60 867.21L906.40 869.30L908.20 871.34L910.00 873.32L911.80 875.25L913.60 877.12L915.40 878.94L917.20 880.72L919.00 882.44L920.80 884.11L922.60 885.74L924.40 887.32L926.20 888.85L928.00 890.35L929.80 891.80L931.60 893.21L933.40 894.58L935.20 895.91L937.00 897.21L938.80 898.47L940.60 899.69L942.40 900.88L944.20 902.04L946.00 903.16L947.80 904.26L949.60 905.32L951.40 906.36L953.20 907.37L955.00 908.35L956.80 909.30L958.60 910.23L960.40 911.13L962.20 912.01L964.00 912.87L965.80 913.70L967.60 914.51L969.40 915.30L971.20 916.07L973.00 916.82L974.80 917.55L976.60 918.26L978.40 918.95L980.20 919.63L982.00 920.28L983.80 920.92L985.60 921.54L987.40 922.15L989.20 922.74L991.00 923.32L992.80 923.88L994.60 924.42L996.40 924.96L998.20 925.48L1000.00 925.98L1001.80 926.47L1003.60 926.95L1005.40 927.42L1007.20 927.88L1009.00 928.32L1010.80 928.76L1012.60 929.18L1014.40 929.59L1016.20 929.99L1018.00 930.38L1019.80 930.76L1021.60 931.13L1023.40 931.50L1025.20 931.85L1027.00 932.19L1028.80 932.53L1030.60 932.86L1032.40 933.18L1034.20 933.49L1036.00 933.79L1037.80 934.09L1039.60 934.37L1041.40 934.65L1043.20 934.93L1045.00 935.20L1046.80 935.46L1048.60 935.71L1050.40 935.96L1052.20 936.20L1054.00 936.43L1055.80 936.66L1057.60 936.89L1059.40 937.10L1061.20 937.32L1063.00 937.52L1064.80 937.73L1066.60 937.92L1068.40 938.12L1070.20 938.30L1072.00 938.49L1073.80 938.66L1075.60 938.84L1077.40 939.01L1079.20 939.17L1081.00 939.33L1082.80 939.49L1084.60 939.64L1086.40 939.79L1088.20 939.94L1090.00 940.08L1091.80 940.21L1093.60 940.35L1095.40 940.48L1097.20 940.61L1099.00 940.73L1100.80 940.85L1102.60 940.97L1104.40 941.09L1106.20 941.20L1108.00 941.31L1109.80 941.41L1111.60 941.52L1113.40 941.62L1115.20 941.72L1117.00 941.81L1118.80 941.91L1120.60 941.99L1122.40 942.08L1124.20 942.16L1126.00 942.25L1127.80 942.33L1129.60 942.40L1131.40 942.48L1133.20 942.55L1135.00 942.63L1136.80 942.70L1138.60 942.77L1140.40 942.83L1142.20 942.90L1144.00 942.96L1145.80 943.02L1147.60 943.08L1149.40 943.14L1151.20 943.20L1153.00 943.25L1154.80 943.31L1156.60 943.36L1158.40 943.41L1160.20 943.46L1162.00 943.51L1163.80 943.56L1165.60 943.60L1167.40 943.65L1169.20 943.69L1171.00 943.73L1172.80 943.77L1174.60 943.82L1176.40 943.85L1178.20 943.89L1180.00 943.93L1181.80 943.97L1183.60 944.00L1185.40 944.04L1187.20 944.07L1189.00 944.10L1190.80 944.14L1192.60 944.17L1194.40 944.20L1196.20 944.23L1198.00 944.26L1199.80 944.28L1201.60 944.31L1203.40 944.34L1205.20 944.36L1207.00 944.39L1208.80 944.41L1210.60 944.44L1212.40 944.46L1214.20 944.48L1216.00 944.51L1217.80 944.53L1219.60 944.55L1221.40 944.57L1223.20 944.59L1225.00 944.61L1226.80 944.63L1228.60 944.65L1230.40 944.66L1232.20 944.68L1234.00 944.70L1235.80 944.71L1237.60 944.73L1239.40 944.75L1241.20 944.76L1243.00 944.78L1244.80 944.79L1246.60 944.81L1248.40 944.82L1250.20 944.83L1252.00 944.85L1253.80 944.86L1255.60 944.87L1257.40 944.88L1259.20 944.89L1261.00 944.91L1262.80 944.92L1264.60 944.93L1266.40 944.94L1268.20 944.95L1270.00 944.96L1271.80 944.97L1273.60 944.98L1275.40 944.99L1277.20 945.00L1279.00 945.01L1280.80 945.02L1282.60 945.02L1284.40 945.03L1286.20 945.04L1288.00 945.05L1289.80 945.05L1291.60 945.06L1293.40 945.07L1295.20 945.08L1297.00 945.08L1298.80 945.09L1300.60 945.10L1302.40 945.10L1304.20 945.11L1306.00 945.11L1307.80 945.12L1309.60 945.13L1311.40 945.13L1313.20 945.14L1315.00 945.14L1316.80 945.15L1318.60 945.15L1320.40 945.16L1322.20 945.16L1324.00 945.17L1325.80 945.17L1327.60 945.18L1329.40 945.18L1331.20 945.18L1333.00 945.19L1334.80 945.19L1336.60 945.20L1338.40 945.20L1340.20 945.20L1342.00 945.21L1343.80 945.21L1345.60 945.21L1347.40 945.22L1349.20 945.22L1351.00 945.22L1352.80 945.23L1354.60 945.23L1356.40 945.23L1358.20 945.23L1360.00 945.24L1361.80 945.24L1363.60 945.24L1365.40 945.25L1367.20 945.25L1369.00 945.25L1370.80 945.25L1372.60 945.25L1374.40 945.26L1376.20 945.26L1378.00 945.26L1379.80 945.26L1381.60 945.27L1383.40 945.27L1385.20 945.27L1387.00 945.27"/>
</g>
<g fill="#000" shape-rendering="crispEdges">
<rect x="127" y="944" width="1261" height="3"/>
<rect x="755" y="165" width="4" height="782"/>
<rect x="143" y="936" width="4" height="8"/>
<rect x="179" y="936" width="4" height="8"/>
<rect x="215" y="930" width="4" height="14"/>
<rect x="251" y="936" width="4" height="8"/>
<rect x="287" y="936" width="4" height="8"/>
<rect x="323" y="936" width="4" height="8"/>
<rect x="359" y="936" width="4" height="8"/>
<rect x="395" y="930" width="4" height="14"/>
<rect x="431" y="936" width="4" height="8"/>
<rect x="467" y="936" width="4" height="8"/>
<rect x="503" y="936" width="4" height="8"/>
<rect x="539" y="936" width="4" height="8"/>
<rect x="575" y="930" width="4" height="14"/>
<rect x="611" y="936" width="4" height="8"/>
<rect x="647" y="936" width="4" height="8"/>
<rect x="683" y="936" width="4" height="8"/>
<rect x="719" y="936" width="4" height="8"/>
<rect x="791" y="936" width="4" height="8"/>
<rect x="827" y="936" width="4" height="8"/>
<rect x="863" y="936" width="4" height="8"/>
<rect x="899" y="936" width="4" height="8"/>
<rect x="935" y="930" width="4" height="14"/>
<rect x="971" y="936" width="4" height="8"/>
<rect x="1007" y="936" width="4" height="8"/>
<rect x="1043" y="936" width="4" height="8"/>
<rect x="1079" y="936" width="4" height="8"/>
<rect x="1115" y="930" width="4" height="14"/>
<rect x="1151" y="936" width="4" height="8"/>
<rect x="1187" y="936" width="4" height="8"/>
<rect x="1223" y="936" width="4" height="8"/>
<rect x="1259" y="936" width="4" height="8"/>
<rect x="1295" y="930" width="4" height="14"/>
<rect x="1331" y="936" width="4" height="8"/>
<rect x="1367" y="936" width="4" height="8"/>
<rect x="759" y="905" width="8" height="3"/>
<rect x="759" y="866" width="8" height="3"/>
<rect x="759" y="827" width="8" height="3"/>
<rect x="759" y="788" width="8" height="3"/>
<rect x="759" y="749" width="14" height="3"/>
<rect x="759" y="710" width="8" height="3"/>
<rect x="759" y="671" width="8" height="3"/>
<rect x="759" y="632" width="8" height="4"/>
<rect x="759" y="593" width="8" height="4"/>
<rect x="759" y="554" width="14" height="4"/>
<rect x="759" y="515" width="8" height="4"/>
<rect x="759" y="476" width="8" height="4"/>
<rect x="759" y="437" width="8" height="4"/>
<rect x="759" y="398" width="8" height="4"/>
<rect x="759" y="360" width="14" height="3"/>
<rect x="759" y="321" width="8" height="3"/>
<rect x="759" y="282" width="8" height="3"/>
<rect x="759" y="243" width="8" height="3"/>
<rect x="759" y="204" width="8" height="3"/>
<rect x="759" y="165" width="14" height="3"/>
</g>
<g fill="#000" stroke="#000" stroke-width="0.5" text-rendering="geometricPrecision" font-family="'Liberation Serif','Times New Roman',Times,serif">
<text><tspan x="676.49" y="184.20" font-size="66" textLength="34.65" lengthAdjust="spacingAndGlyphs">2</tspan><tspan x="709.57" y="184.20" font-size="66" textLength="33.86" lengthAdjust="spacingAndGlyphs">0</tspan></text>
<text><tspan x="677.88" y="379.20" font-size="66" textLength="30.36" lengthAdjust="spacingAndGlyphs">1</tspan><tspan x="708.52" y="379.20" font-size="66" textLength="34.65" lengthAdjust="spacingAndGlyphs">5</tspan></text>
<text><tspan x="677.88" y="574.20" font-size="66" textLength="30.36" lengthAdjust="spacingAndGlyphs">1</tspan><tspan x="709.57" y="574.20" font-size="66" textLength="33.86" lengthAdjust="spacingAndGlyphs">0</tspan></text>
<text><tspan x="708.52" y="768.20" font-size="66" textLength="34.65" lengthAdjust="spacingAndGlyphs">5</tspan></text>
<text><tspan x="163.49" y="1025.10" font-size="72" textLength="40.84" lengthAdjust="spacingAndGlyphs" stroke-width="0.4">−</tspan><tspan x="201.77" y="1018.20" font-size="66" textLength="33.82" lengthAdjust="spacingAndGlyphs">3</tspan><tspan x="237.57" y="1018.20" font-size="66" textLength="33.86" lengthAdjust="spacingAndGlyphs">0</tspan></text>
<text><tspan x="343.49" y="1025.10" font-size="72" textLength="40.84" lengthAdjust="spacingAndGlyphs" stroke-width="0.4">−</tspan><tspan x="384.51" y="1018.20" font-size="66" textLength="34.65" lengthAdjust="spacingAndGlyphs">2</tspan><tspan x="417.57" y="1018.20" font-size="66" textLength="33.86" lengthAdjust="spacingAndGlyphs">0</tspan></text>
<text><tspan x="523.49" y="1025.10" font-size="72" textLength="40.84" lengthAdjust="spacingAndGlyphs" stroke-width="0.4">−</tspan><tspan x="565.98" y="1018.20" font-size="66" textLength="30.36" lengthAdjust="spacingAndGlyphs">1</tspan><tspan x="597.57" y="1018.20" font-size="66" textLength="33.86" lengthAdjust="spacingAndGlyphs">0</tspan></text>
<text><tspan x="904.98" y="1018.20" font-size="66" textLength="30.36" lengthAdjust="spacingAndGlyphs">1</tspan><tspan x="936.57" y="1018.20" font-size="66" textLength="33.86" lengthAdjust="spacingAndGlyphs">0</tspan></text>
<text><tspan x="1083.51" y="1018.20" font-size="66" textLength="34.65" lengthAdjust="spacingAndGlyphs">2</tspan><tspan x="1116.57" y="1018.20" font-size="66" textLength="33.86" lengthAdjust="spacingAndGlyphs">0</tspan></text>
<text><tspan x="1260.74" y="1018.20" font-size="66" textLength="33.82" lengthAdjust="spacingAndGlyphs">3</tspan><tspan x="1296.57" y="1018.20" font-size="66" textLength="33.86" lengthAdjust="spacingAndGlyphs">0</tspan></text>
<text><tspan x="1425.44" y="964.00" font-size="63.6" textLength="28.29" lengthAdjust="spacingAndGlyphs">z</tspan><tspan x="1454.45" y="962.10" font-size="60.3" textLength="20.49" lengthAdjust="spacingAndGlyphs">(</tspan><tspan x="1475.83" y="964.00" font-size="63.6" textLength="33.12" lengthAdjust="spacingAndGlyphs">n</tspan><tspan x="1508.64" y="964.00" font-size="63.6" textLength="52.37" lengthAdjust="spacingAndGlyphs">m</tspan><tspan x="1560.04" y="962.10" font-size="60.3" textLength="20.75" lengthAdjust="spacingAndGlyphs">)</tspan></text>
<text><tspan x="616.96" y="116.00" font-size="65" textLength="42.00" lengthAdjust="spacingAndGlyphs" font-style="italic">E</tspan><tspan x="656.76" y="127.60" font-size="46.5" textLength="17.79" lengthAdjust="spacingAndGlyphs" font-style="italic">z</tspan><tspan x="677.35" y="114.10" font-size="60.3" textLength="20.49" lengthAdjust="spacingAndGlyphs">(</tspan><tspan x="697.18" y="116.00" font-size="65" textLength="60.88" lengthAdjust="spacingAndGlyphs">M</tspan><tspan x="757.65" y="116.00" font-size="65" textLength="44.90" lengthAdjust="spacingAndGlyphs">V</tspan><tspan x="805.10" y="126.00" font-size="81.5" textLength="20.75" lengthAdjust="spacingAndGlyphs">/</tspan><tspan x="825.64" y="116.00" font-size="63.6" textLength="52.42" lengthAdjust="spacingAndGlyphs">m</tspan><tspan x="877.04" y="114.10" font-size="60.3" textLength="20.75" lengthAdjust="spacingAndGlyphs">)</tspan></text>
<text><tspan x="226.58" y="275.90" font-size="74.5" textLength="24.76" lengthAdjust="spacingAndGlyphs">(</tspan><tspan x="250.93" y="278.30" font-size="79" textLength="38.09" lengthAdjust="spacingAndGlyphs">a</tspan><tspan x="287.80" y="275.90" font-size="74.5" textLength="25.28" lengthAdjust="spacingAndGlyphs">)</tspan></text>
</g>
<g fill="none" stroke-width="8.7" stroke-linecap="square" stroke-linejoin="round" shape-rendering="crispEdges">
<path stroke="#0000ff" d="M126.00 1977.78L127.80 1977.77L129.60 1977.77L131.40 1977.77L133.20 1977.77L135.00 1977.76L136.80 1977.76L138.60 1977.76L140.40 1977.76L142.20 1977.75L144.00 1977.75L145.80 1977.75L147.60 1977.74L149.40 1977.74L151.20 1977.74L153.00 1977.73L154.80 1977.73L156.60 1977.73L158.40 1977.72L160.20 1977.72L162.00 1977.71L163.80 1977.71L165.60 1977.70L167.40 1977.70L169.20 1977.70L171.00 1977.69L172.80 1977.69L174.60 1977.68L176.40 1977.68L178.20 1977.67L180.00 1977.67L181.80 1977.66L183.60 1977.66L185.40 1977.65L187.20 1977.64L189.00 1977.64L190.80 1977.63L192.60 1977.63L194.40 1977.62L196.20 1977.61L198.00 1977.61L199.80 1977.60L201.60 1977.59L203.40 1977.58L205.20 1977.58L207.00 1977.57L208.80 1977.56L210.60 1977.55L212.40 1977.54L214.20 1977.53L216.00 1977.53L217.80 1977.52L219.60 1977.51L221.40 1977.50L223.20 1977.49L225.00 1977.48L226.80 1977.47L228.60 1977.46L230.40 1977.45L232.20 1977.43L234.00 1977.42L235.80 1977.41L237.60 1977.40L239.40 1977.39L241.20 1977.37L243.00 1977.36L244.80 1977.35L246.60 1977.33L248.40 1977.32L250.20 1977.30L252.00 1977.29L253.80 1977.27L255.60 1977.26L257.40 1977.24L259.20 1977.22L261.00 1977.21L262.80 1977.19L264.60 1977.17L266.40 1977.15L268.20 1977.13L270.00 1977.12L271.80 1977.09L273.60 1977.07L275.40 1977.05L277.20 1977.03L279.00 1977.01L280.80 1976.99L282.60 1976.96L284.40 1976.94L286.20 1976.91L288.00 1976.89L289.80 1976.86L291.60 1976.84L293.40 1976.81L295.20 1976.78L297.00 1976.75L298.80 1976.72L300.60 1976.69L302.40 1976.66L304.20 1976.63L306.00 1976.60L307.80 1976.56L309.60 1976.53L311.40 1976.49L313.20 1976.45L315.00 1976.42L316.80 1976.38L318.60 1976.34L320.40 1976.30L322.20 1976.26L324.00 1976.21L325.80 1976.17L327.60 1976.12L329.40 1976.08L331.20 1976.03L333.00 1975.98L334.80 1975.93L336.60 1975.88L338.40 1975.83L340.20 1975.77L342.00 1975.72L343.80 1975.66L345.60 1975.60L347.40 1975.54L349.20 1975.48L351.00 1975.42L352.80 1975.35L354.60 1975.28L356.40 1975.21L358.20 1975.14L360.00 1975.07L361.80 1975.00L363.60 1974.92L365.40 1974.84L367.20 1974.76L369.00 1974.68L370.80 1974.60L372.60 1974.51L374.40 1974.42L376.20 1974.33L378.00 1974.23L379.80 1974.14L381.60 1974.04L383.40 1973.94L385.20 1973.83L387.00 1973.72L388.80 1973.61L390.60 1973.50L392.40 1973.39L394.20 1973.27L396.00 1973.14L397.80 1973.02L399.60 1972.88L401.40 1972.75L403.20 1972.61L405.00 1972.47L406.80 1972.32L408.60 1972.17L410.40 1972.02L412.20 1971.86L414.00 1971.69L415.80 1971.53L417.60 1971.36L419.40 1971.18L421.20 1971.00L423.00 1970.82L424.80 1970.63L426.60 1970.43L428.40 1970.23L430.20 1970.03L432.00 1969.82L433.80 1969.60L435.60 1969.38L437.40 1969.16L439.20 1968.92L441.00 1968.68L442.80 1968.44L444.60 1968.19L446.40 1967.93L448.20 1967.67L450.00 1967.40L451.80 1967.12L453.60 1966.83L455.40 1966.54L457.20 1966.24L459.00 1965.93L460.80 1965.62L462.60 1965.30L464.40 1964.96L466.20 1964.62L468.00 1964.28L469.80 1963.92L471.60 1963.55L473.40 1963.17L475.20 1962.79L477.00 1962.39L478.80 1961.99L480.60 1961.57L482.40 1961.14L484.20 1960.70L486.00 1960.25L487.80 1959.79L489.60 1959.32L491.40 1958.83L493.20 1958.33L495.00 1957.82L496.80 1957.30L498.60 1956.76L500.40 1956.21L502.20 1955.65L504.00 1955.06L505.80 1954.47L507.60 1953.86L509.40 1953.23L511.20 1952.59L513.00 1951.93L514.80 1951.25L516.60 1950.55L518.40 1949.84L520.20 1949.11L522.00 1948.36L523.80 1947.59L525.60 1946.80L527.40 1945.98L529.20 1945.15L531.00 1944.29L532.80 1943.41L534.60 1942.51L536.40 1941.58L538.20 1940.63L540.00 1939.65L541.80 1938.65L543.60 1937.62L545.40 1936.56L547.20 1935.47L549.00 1934.36L550.80 1933.21L552.60 1932.03L554.40 1930.82L556.20 1929.58L558.00 1928.30L559.80 1926.98L561.60 1925.63L563.40 1924.24L565.20 1922.82L567.00 1921.35L568.80 1919.84L570.60 1918.29L572.40 1916.69L574.20 1915.05L576.00 1913.37L577.80 1911.63L579.60 1909.85L581.40 1908.01L583.20 1906.12L585.00 1904.18L586.80 1902.18L588.60 1900.12L590.40 1898.00L592.20 1895.82L594.00 1893.58L595.80 1891.27L597.60 1888.89L599.40 1886.45L601.20 1883.94L603.00 1881.36L604.80 1878.70L606.60 1875.97L608.40 1873.16L610.20 1870.28L612.00 1867.32L613.80 1864.27L615.60 1861.15L617.40 1857.94L619.20 1854.64L621.00 1851.26L622.80 1847.80L624.60 1844.25L626.40 1840.61L628.20 1836.88L630.00 1833.07L631.80 1829.16L633.60 1825.17L635.40 1821.09L637.20 1816.93L639.00 1812.67L640.80 1808.34L642.60 1803.91L644.40 1799.41L646.20 1794.81L648.00 1790.14L649.80 1785.37L651.60 1780.51L653.40 1775.56L655.20 1770.52L657.00 1765.38L658.80 1760.13L660.60 1754.76L662.40 1749.28L664.20 1743.67L666.00 1737.92L667.80 1732.02L669.60 1725.96L671.40 1719.72L673.20 1713.29L675.00 1706.64L676.80 1699.76L678.60 1692.62L680.40 1685.19L682.20 1677.45L684.00 1669.36L685.80 1660.89L687.60 1652.00L689.40 1642.67L691.20 1632.87L693.00 1622.58L694.80 1611.79L696.60 1600.49L698.40 1588.68L700.20 1576.36L702.00 1563.57L703.80 1550.31L705.60 1536.63L707.40 1522.54L709.20 1508.09L711.00 1493.32L712.80 1478.27L714.60 1463.01L716.40 1447.60L718.20 1432.10L720.00 1416.58L721.80 1401.14L723.60 1385.84L725.40 1370.77L727.20 1356.01L729.00 1341.65L729.36 1338.84L729.72 1336.04L730.08 1333.27L730.44 1330.51L730.80 1327.78L731.16 1325.07L731.52 1322.39L731.88 1319.72L732.24 1317.09L732.60 1314.48L732.96 1311.89L733.32 1309.33L733.68 1306.80L734.04 1304.30L734.40 1301.82L734.76 1299.38L735.12 1296.96L735.48 1294.57L735.84 1292.22L736.20 1289.90L736.56 1287.61L736.92 1285.35L737.28 1283.12L737.64 1280.93L738.00 1278.77L738.36 1276.65L738.72 1274.57L739.08 1272.52L739.44 1270.50L739.80 1268.53L740.16 1266.59L740.52 1264.68L740.88 1262.82L741.24 1261.00L741.60 1259.21L741.96 1257.47L742.32 1255.76L742.68 1254.10L743.04 1252.48L743.40 1250.89L743.76 1249.35L744.12 1247.86L744.48 1246.40L744.84 1244.99L745.20 1243.62L745.56 1242.29L745.92 1241.01L746.28 1239.77L746.64 1238.57L747.00 1237.42L747.36 1236.32L747.72 1235.26L748.08 1234.24L748.44 1233.27L748.80 1232.35L749.16 1231.47L749.52 1230.63L749.88 1229.84L750.24 1229.10L750.60 1228.41L750.96 1227.76L751.32 1227.15L751.68 1226.60L752.04 1226.08L752.40 1225.62L752.76 1225.20L753.12 1224.83L753.48 1224.50L753.84 1224.22L754.20 1223.99L754.56 1223.80L754.92 1223.67L755.28 1223.67L755.64 1223.67L756.00 1223.67L756.36 1223.67L756.72 1223.67L757.08 1223.67L757.44 1223.80L757.80 1223.99L758.16 1224.22L758.52 1224.50L758.88 1224.83L759.24 1225.20L759.60 1225.62L759.96 1226.08L760.32 1226.60L760.68 1227.15L761.04 1227.76L761.40 1228.41L761.76 1229.10L762.12 1229.84L762.48 1230.63L762.84 1231.47L763.20 1232.35L763.56 1233.27L763.92 1234.24L764.28 1235.26L764.64 1236.32L765.00 1237.42L765.36 1238.57L765.72 1239.77L766.08 1241.01L766.44 1242.29L766.80 1243.62L767.16 1244.99L767.52 1246.40L767.88 1247.86L768.24 1249.35L768.60 1250.89L768.96 1252.48L769.32 1254.10L769.68 1255.76L770.04 1257.47L770.40 1259.21L770.76 1261.00L771.12 1262.82L771.48 1264.68L771.84 1266.59L772.20 1268.53L772.56 1270.50L772.92 1272.52L773.28 1274.57L773.64 1276.65L774.00 1278.77L774.36 1280.93L774.72 1283.12L775.08 1285.35L775.44 1287.61L775.80 1289.90L776.16 1292.22L776.52 1294.57L776.88 1296.96L777.24 1299.38L777.60 1301.82L777.96 1304.30L778.32 1306.80L778.68 1309.33L779.04 1311.89L779.40 1314.48L779.76 1317.09L780.12 1319.72L780.48 1322.39L780.84 1325.07L781.20 1327.78L781.56 1330.51L781.92 1333.27L782.28 1336.04L782.64 1338.84L783.00 1341.65L784.80 1356.01L786.60 1370.77L788.40 1385.84L790.20 1401.14L792.00 1416.58L793.80 1432.10L795.60 1447.60L797.40 1463.01L799.20 1478.27L801.00 1493.32L802.80 1508.09L804.60 1522.54L806.40 1536.63L808.20 1550.31L810.00 1563.57L811.80 1576.36L813.60 1588.68L815.40 1600.49L817.20 1611.79L819.00 1622.58L820.80 1632.87L822.60 1642.67L824.40 1652.00L826.20 1660.89L828.00 1669.36L829.80 1677.45L831.60 1685.19L833.40 1692.62L835.20 1699.76L837.00 1706.64L838.80 1713.29L840.60 1719.72L842.40 1725.96L844.20 1732.02L846.00 1737.92L847.80 1743.67L849.60 1749.28L851.40 1754.76L853.20 1760.13L855.00 1765.38L856.80 1770.52L858.60 1775.56L860.40 1780.51L862.20 1785.37L864.00 1790.14L865.80 1794.81L867.60 1799.41L869.40 1803.91L871.20 1808.34L873.00 1812.67L874.80 1816.93L876.60 1821.09L878.40 1825.17L880.20 1829.16L882.00 1833.07L883.80 1836.88L885.60 1840.61L887.40 1844.25L889.20 1847.80L891.00 1851.26L892.80 1854.64L894.60 1857.94L896.40 1861.15L898.20 1864.27L900.00 1867.32L901.80 1870.28L903.60 1873.16L905.40 1875.97L907.20 1878.70L909.00 1881.36L910.80 1883.94L912.60 1886.45L914.40 1888.89L916.20 1891.27L918.00 1893.58L919.80 1895.82L921.60 1898.00L923.40 1900.12L925.20 1902.18L927.00 1904.18L928.80 1906.12L930.60 1908.01L932.40 1909.85L934.20 1911.63L936.00 1913.37L937.80 1915.05L939.60 1916.69L941.40 1918.29L943.20 1919.84L945.00 1921.35L946.80 1922.82L948.60 1924.24L950.40 1925.63L952.20 1926.98L954.00 1928.30L955.80 1929.58L957.60 1930.82L959.40 1932.03L961.20 1933.21L963.00 1934.36L964.80 1935.47L966.60 1936.56L968.40 1937.62L970.20 1938.65L972.00 1939.65L973.80 1940.63L975.60 1941.58L977.40 1942.51L979.20 1943.41L981.00 1944.29L982.80 1945.15L984.60 1945.98L986.40 1946.80L988.20 1947.59L990.00 1948.36L991.80 1949.11L993.60 1949.84L995.40 1950.55L997.20 1951.25L999.00 1951.93L1000.80 1952.59L1002.60 1953.23L1004.40 1953.86L1006.20 1954.47L1008.00 1955.06L1009.80 1955.65L1011.60 1956.21L1013.40 1956.76L1015.20 1957.30L1017.00 1957.82L1018.80 1958.33L1020.60 1958.83L1022.40 1959.32L1024.20 1959.79L1026.00 1960.25L1027.80 1960.70L1029.60 1961.14L1031.40 1961.57L1033.20 1961.99L1035.00 1962.39L1036.80 1962.79L1038.60 1963.17L1040.40 1963.55L1042.20 1963.92L1044.00 1964.28L1045.80 1964.62L1047.60 1964.96L1049.40 1965.30L1051.20 1965.62L1053.00 1965.93L1054.80 1966.24L1056.60 1966.54L1058.40 1966.83L1060.20 1967.12L1062.00 1967.40L1063.80 1967.67L1065.60 1967.93L1067.40 1968.19L1069.20 1968.44L1071.00 1968.68L1072.80 1968.92L1074.60 1969.16L1076.40 1969.38L1078.20 1969.60L1080.00 1969.82L1081.80 1970.03L1083.60 1970.23L1085.40 1970.43L1087.20 1970.63L1089.00 1970.82L1090.80 1971.00L1092.60 1971.18L1094.40 1971.36L1096.20 1971.53L1098.00 1971.69L1099.80 1971.86L1101.60 1972.02L1103.40 1972.17L1105.20 1972.32L1107.00 1972.47L1108.80 1972.61L1110.60 1972.75L1112.40 1972.88L1114.20 1973.02L1116.00 1973.14L1117.80 1973.27L1119.60 1973.39L1121.40 1973.50L1123.20 1973.61L1125.00 1973.72L1126.80 1973.83L1128.60 1973.94L1130.40 1974.04L1132.20 1974.14L1134.00 1974.23L1135.80 1974.33L1137.60 1974.42L1139.40 1974.51L1141.20 1974.60L1143.00 1974.68L1144.80 1974.76L1146.60 1974.84L1148.40 1974.92L1150.20 1975.00L1152.00 1975.07L1153.80 1975.14L1155.60 1975.21L1157.40 1975.28L1159.20 1975.35L1161.00 1975.42L1162.80 1975.48L1164.60 1975.54L1166.40 1975.60L1168.20 1975.66L1170.00 1975.72L1171.80 1975.77L1173.60 1975.83L1175.40 1975.88L1177.20 1975.93L1179.00 1975.98L1180.80 1976.03L1182.60 1976.08L1184.40 1976.12L1186.20 1976.17L1188.00 1976.21L1189.80 1976.26L1191.60 1976.30L1193.40 1976.34L1195.20 1976.38L1197.00 1976.42L1198.80 1976.45L1200.60 1976.49L1202.40 1976.53L1204.20 1976.56L1206.00 1976.60L1207.80 1976.63L1209.60 1976.66L1211.40 1976.69L1213.20 1976.72L1215.00 1976.75L1216.80 1976.78L1218.60 1976.81L1220.40 1976.84L1222.20 1976.86L1224.00 1976.89L1225.80 1976.91L1227.60 1976.94L1229.40 1976.96L1231.20 1976.99L1233.00 1977.01L1234.80 1977.03L1236.60 1977.05L1238.40 1977.07L1240.20 1977.09L1242.00 1977.12L1243.80 1977.13L1245.60 1977.15L1247.40 1977.17L1249.20 1977.19L1251.00 1977.21L1252.80 1977.22L1254.60 1977.24L1256.40 1977.26L1258.20 1977.27L1260.00 1977.29L1261.80 1977.30L1263.60 1977.32L1265.40 1977.33L1267.20 1977.35L1269.00 1977.36L1270.80 1977.37L1272.60 1977.39L1274.40 1977.40L1276.20 1977.41L1278.00 1977.42L1279.80 1977.43L1281.60 1977.45L1283.40 1977.46L1285.20 1977.47L1287.00 1977.48L1288.80 1977.49L1290.60 1977.50L1292.40 1977.51L1294.20 1977.52L1296.00 1977.53L1297.80 1977.53L1299.60 1977.54L1301.40 1977.55L1303.20 1977.56L1305.00 1977.57L1306.80 1977.58L1308.60 1977.58L1310.40 1977.59L1312.20 1977.60L1314.00 1977.61L1315.80 1977.61L1317.60 1977.62L1319.40 1977.63L1321.20 1977.63L1323.00 1977.64L1324.80 1977.64L1326.60 1977.65L1328.40 1977.66L1330.20 1977.66L1332.00 1977.67L1333.80 1977.67L1335.60 1977.68L1337.40 1977.68L1339.20 1977.69L1341.00 1977.69L1342.80 1977.70L1344.60 1977.70L1346.40 1977.70L1348.20 1977.71L1350.00 1977.71L1351.80 1977.72L1353.60 1977.72L1355.40 1977.73L1357.20 1977.73L1359.00 1977.73L1360.80 1977.74L1362.60 1977.74L1364.40 1977.74L1366.20 1977.75L1368.00 1977.75L1369.80 1977.75L1371.60 1977.76L1373.40 1977.76L1375.20 1977.76L1377.00 1977.76L1378.80 1977.77L1380.60 1977.77L1382.40 1977.77L1384.20 1977.77L1386.00 1977.78"/>
<path stroke="#eb005e" stroke-dasharray="18.85 18.94" d="M126.00 1977.80L127.80 1977.80L129.60 1977.80L131.40 1977.80L133.20 1977.79L135.00 1977.79L136.80 1977.79L138.60 1977.79L140.40 1977.79L142.20 1977.78L144.00 1977.78L145.80 1977.78L147.60 1977.78L149.40 1977.78L151.20 1977.77L153.00 1977.77L154.80 1977.77L156.60 1977.76L158.40 1977.76L160.20 1977.76L162.00 1977.76L163.80 1977.75L165.60 1977.75L167.40 1977.75L169.20 1977.74L171.00 1977.74L172.80 1977.74L174.60 1977.73L176.40 1977.73L178.20 1977.73L180.00 1977.72L181.80 1977.72L183.60 1977.71L185.40 1977.71L187.20 1977.71L189.00 1977.70L190.80 1977.70L192.60 1977.69L194.40 1977.69L196.20 1977.68L198.00 1977.68L199.80 1977.67L201.60 1977.67L203.40 1977.66L205.20 1977.66L207.00 1977.65L208.80 1977.64L210.60 1977.64L212.40 1977.63L214.20 1977.63L216.00 1977.62L217.80 1977.61L219.60 1977.61L221.40 1977.60L223.20 1977.59L225.00 1977.58L226.80 1977.58L228.60 1977.57L230.40 1977.56L232.20 1977.55L234.00 1977.54L235.80 1977.54L237.60 1977.53L239.40 1977.52L241.20 1977.51L243.00 1977.50L244.80 1977.49L246.60 1977.48L248.40 1977.47L250.20 1977.46L252.00 1977.45L253.80 1977.44L255.60 1977.42L257.40 1977.41L259.20 1977.40L261.00 1977.39L262.80 1977.38L264.60 1977.36L266.40 1977.35L268.20 1977.33L270.00 1977.32L271.80 1977.31L273.60 1977.29L275.40 1977.28L277.20 1977.26L279.00 1977.24L280.80 1977.23L282.60 1977.21L284.40 1977.19L286.20 1977.17L288.00 1977.16L289.80 1977.14L291.60 1977.12L293.40 1977.10L295.20 1977.08L297.00 1977.06L298.80 1977.03L300.60 1977.01L302.40 1976.99L304.20 1976.97L306.00 1976.94L307.80 1976.92L309.60 1976.89L311.40 1976.87L313.20 1976.84L315.00 1976.81L316.80 1976.78L318.60 1976.76L320.40 1976.73L322.20 1976.70L324.00 1976.66L325.80 1976.63L327.60 1976.60L329.40 1976.57L331.20 1976.53L333.00 1976.50L334.80 1976.46L336.60 1976.42L338.40 1976.38L340.20 1976.34L342.00 1976.30L343.80 1976.26L345.60 1976.22L347.40 1976.18L349.20 1976.13L351.00 1976.08L352.80 1976.04L354.60 1975.99L356.40 1975.94L358.20 1975.89L360.00 1975.83L361.80 1975.78L363.60 1975.72L365.40 1975.67L367.20 1975.61L369.00 1975.55L370.80 1975.49L372.60 1975.42L374.40 1975.36L376.20 1975.29L378.00 1975.22L379.80 1975.15L381.60 1975.08L383.40 1975.01L385.20 1974.93L387.00 1974.85L388.80 1974.77L390.60 1974.69L392.40 1974.61L394.20 1974.52L396.00 1974.43L397.80 1974.34L399.60 1974.24L401.40 1974.14L403.20 1974.04L405.00 1973.94L406.80 1973.83L408.60 1973.72L410.40 1973.61L412.20 1973.49L414.00 1973.38L415.80 1973.26L417.60 1973.13L419.40 1973.00L421.20 1972.87L423.00 1972.74L424.80 1972.60L426.60 1972.46L428.40 1972.31L430.20 1972.16L432.00 1972.01L433.80 1971.85L435.60 1971.69L437.40 1971.53L439.20 1971.36L441.00 1971.19L442.80 1971.01L444.60 1970.83L446.40 1970.64L448.20 1970.45L450.00 1970.25L451.80 1970.05L453.60 1969.84L455.40 1969.63L457.20 1969.41L459.00 1969.19L460.80 1968.96L462.60 1968.72L464.40 1968.48L466.20 1968.23L468.00 1967.98L469.80 1967.72L471.60 1967.45L473.40 1967.18L475.20 1966.90L477.00 1966.61L478.80 1966.31L480.60 1966.01L482.40 1965.70L484.20 1965.38L486.00 1965.05L487.80 1964.71L489.60 1964.37L491.40 1964.02L493.20 1963.66L495.00 1963.28L496.80 1962.90L498.60 1962.51L500.40 1962.11L502.20 1961.70L504.00 1961.28L505.80 1960.84L507.60 1960.40L509.40 1959.94L511.20 1959.47L513.00 1958.99L514.80 1958.50L516.60 1957.99L518.40 1957.47L520.20 1956.94L522.00 1956.40L523.80 1955.83L525.60 1955.26L527.40 1954.67L529.20 1954.06L531.00 1953.44L532.80 1952.80L534.60 1952.14L536.40 1951.47L538.20 1950.77L540.00 1950.06L541.80 1949.33L543.60 1948.58L545.40 1947.81L547.20 1947.02L549.00 1946.21L550.80 1945.37L552.60 1944.52L554.40 1943.63L556.20 1942.73L558.00 1941.80L559.80 1940.84L561.60 1939.86L563.40 1938.85L565.20 1937.81L567.00 1936.74L568.80 1935.64L570.60 1934.52L572.40 1933.36L574.20 1932.16L576.00 1930.93L577.80 1929.67L579.60 1928.37L581.40 1927.04L583.20 1925.66L585.00 1924.25L586.80 1922.79L588.60 1921.29L590.40 1919.75L592.20 1918.16L594.00 1916.53L595.80 1914.85L597.60 1913.13L599.40 1911.35L601.20 1909.52L603.00 1907.64L604.80 1905.71L606.60 1903.72L608.40 1901.68L610.20 1899.58L612.00 1897.42L613.80 1895.21L615.60 1892.93L617.40 1890.60L619.20 1888.20L621.00 1885.74L622.80 1883.22L624.60 1880.64L626.40 1877.99L628.20 1875.28L630.00 1872.50L631.80 1869.66L633.60 1866.76L635.40 1863.79L637.20 1860.76L639.00 1857.66L640.80 1854.51L642.60 1851.29L644.40 1848.01L646.20 1844.67L648.00 1841.26L649.80 1837.80L651.60 1834.26L653.40 1830.66L655.20 1826.99L657.00 1823.25L658.80 1819.43L660.60 1815.52L662.40 1811.54L664.20 1807.45L666.00 1803.27L667.80 1798.98L669.60 1794.57L671.40 1790.03L673.20 1785.35L675.00 1780.51L676.80 1775.50L678.60 1770.30L680.40 1764.90L682.20 1759.27L684.00 1753.38L685.80 1747.22L687.60 1740.75L689.40 1733.96L691.20 1726.83L693.00 1719.34L694.80 1711.49L696.60 1703.27L698.40 1694.67L700.20 1685.71L702.00 1676.40L703.80 1666.76L705.60 1656.80L707.40 1646.55L709.20 1636.03L711.00 1625.28L712.80 1614.33L714.60 1603.23L716.40 1592.01L718.20 1580.73L720.00 1569.44L721.80 1558.20L723.60 1547.07L725.40 1536.11L727.20 1525.37L729.00 1514.92L729.36 1512.87L729.72 1510.84L730.08 1508.82L730.44 1506.81L730.80 1504.83L731.16 1502.86L731.52 1500.90L731.88 1498.96L732.24 1497.05L732.60 1495.15L732.96 1493.26L733.32 1491.40L733.68 1489.56L734.04 1487.74L734.40 1485.94L734.76 1484.16L735.12 1482.40L735.48 1480.66L735.84 1478.95L736.20 1477.26L736.56 1475.59L736.92 1473.95L737.28 1472.33L737.64 1470.74L738.00 1469.17L738.36 1467.62L738.72 1466.11L739.08 1464.61L739.44 1463.15L739.80 1461.71L740.16 1460.30L740.52 1458.91L740.88 1457.56L741.24 1456.23L741.60 1454.93L741.96 1453.66L742.32 1452.42L742.68 1451.21L743.04 1450.03L743.40 1448.88L743.76 1447.76L744.12 1446.67L744.48 1445.61L744.84 1444.58L745.20 1443.58L745.56 1442.62L745.92 1441.69L746.28 1440.78L746.64 1439.91L747.00 1439.08L747.36 1438.27L747.72 1437.50L748.08 1436.76L748.44 1436.06L748.80 1435.38L749.16 1434.74L749.52 1434.14L749.88 1433.56L750.24 1433.02L750.60 1432.52L750.96 1432.04L751.32 1431.60L751.68 1431.20L752.04 1430.83L752.40 1430.49L752.76 1430.18L753.12 1429.91L753.48 1429.67L753.84 1429.47L754.20 1429.30L754.56 1429.16L754.92 1429.07L755.28 1429.07L755.64 1429.07L756.00 1429.07L756.36 1429.07L756.72 1429.07L757.08 1429.07L757.44 1429.16L757.80 1429.30L758.16 1429.47L758.52 1429.67L758.88 1429.91L759.24 1430.18L759.60 1430.49L759.96 1430.83L760.32 1431.20L760.68 1431.60L761.04 1432.04L761.40 1432.52L761.76 1433.02L762.12 1433.56L762.48 1434.14L762.84 1434.74L763.20 1435.38L763.56 1436.06L763.92 1436.76L764.28 1437.50L764.64 1438.27L765.00 1439.08L765.36 1439.91L765.72 1440.78L766.08 1441.69L766.44 1442.62L766.80 1443.58L767.16 1444.58L767.52 1445.61L767.88 1446.67L768.24 1447.76L768.60 1448.88L768.96 1450.03L769.32 1451.21L769.68 1452.42L770.04 1453.66L770.40 1454.93L770.76 1456.23L771.12 1457.56L771.48 1458.91L771.84 1460.30L772.20 1461.71L772.56 1463.15L772.92 1464.61L773.28 1466.11L773.64 1467.62L774.00 1469.17L774.36 1470.74L774.72 1472.33L775.08 1473.95L775.44 1475.59L775.80 1477.26L776.16 1478.95L776.52 1480.66L776.88 1482.40L777.24 1484.16L777.60 1485.94L777.96 1487.74L778.32 1489.56L778.68 1491.40L779.04 1493.26L779.40 1495.15L779.76 1497.05L780.12 1498.96L780.48 1500.90L780.84 1502.86L781.20 1504.83L781.56 1506.81L781.92 1508.82L782.28 1510.84L782.64 1512.87L783.00 1514.92L784.80 1525.37L786.60 1536.11L788.40 1547.07L790.20 1558.20L792.00 1569.44L793.80 1580.73L795.60 1592.01L797.40 1603.23L799.20 1614.33L801.00 1625.28L802.80 1636.03L804.60 1646.55L806.40 1656.80L808.20 1666.76L810.00 1676.40L811.80 1685.71L813.60 1694.67L815.40 1703.27L817.20 1711.49L819.00 1719.34L820.80 1726.83L822.60 1733.96L824.40 1740.75L826.20 1747.22L828.00 1753.38L829.80 1759.27L831.60 1764.90L833.40 1770.30L835.20 1775.50L837.00 1780.51L838.80 1785.35L840.60 1790.03L842.40 1794.57L844.20 1798.98L846.00 1803.27L847.80 1807.45L849.60 1811.54L851.40 1815.52L853.20 1819.43L855.00 1823.25L856.80 1826.99L858.60 1830.66L860.40 1834.26L862.20 1837.80L864.00 1841.26L865.80 1844.67L867.60 1848.01L869.40 1851.29L871.20 1854.51L873.00 1857.66L874.80 1860.76L876.60 1863.79L878.40 1866.76L880.20 1869.66L882.00 1872.50L883.80 1875.28L885.60 1877.99L887.40 1880.64L889.20 1883.22L891.00 1885.74L892.80 1888.20L894.60 1890.60L896.40 1892.93L898.20 1895.21L900.00 1897.42L901.80 1899.58L903.60 1901.68L905.40 1903.72L907.20 1905.71L909.00 1907.64L910.80 1909.52L912.60 1911.35L914.40 1913.13L916.20 1914.85L918.00 1916.53L919.80 1918.16L921.60 1919.75L923.40 1921.29L925.20 1922.79L927.00 1924.25L928.80 1925.66L930.60 1927.04L932.40 1928.37L934.20 1929.67L936.00 1930.93L937.80 1932.16L939.60 1933.36L941.40 1934.52L943.20 1935.64L945.00 1936.74L946.80 1937.81L948.60 1938.85L950.40 1939.86L952.20 1940.84L954.00 1941.80L955.80 1942.73L957.60 1943.63L959.40 1944.52L961.20 1945.37L963.00 1946.21L964.80 1947.02L966.60 1947.81L968.40 1948.58L970.20 1949.33L972.00 1950.06L973.80 1950.77L975.60 1951.47L977.40 1952.14L979.20 1952.80L981.00 1953.44L982.80 1954.06L984.60 1954.67L986.40 1955.26L988.20 1955.83L990.00 1956.40L991.80 1956.94L993.60 1957.47L995.40 1957.99L997.20 1958.50L999.00 1958.99L1000.80 1959.47L1002.60 1959.94L1004.40 1960.40L1006.20 1960.84L1008.00 1961.28L1009.80 1961.70L1011.60 1962.11L1013.40 1962.51L1015.20 1962.90L1017.00 1963.28L1018.80 1963.66L1020.60 1964.02L1022.40 1964.37L1024.20 1964.71L1026.00 1965.05L1027.80 1965.38L1029.60 1965.70L1031.40 1966.01L1033.20 1966.31L1035.00 1966.61L1036.80 1966.90L1038.60 1967.18L1040.40 1967.45L1042.20 1967.72L1044.00 1967.98L1045.80 1968.23L1047.60 1968.48L1049.40 1968.72L1051.20 1968.96L1053.00 1969.19L1054.80 1969.41L1056.60 1969.63L1058.40 1969.84L1060.20 1970.05L1062.00 1970.25L1063.80 1970.45L1065.60 1970.64L1067.40 1970.83L1069.20 1971.01L1071.00 1971.19L1072.80 1971.36L1074.60 1971.53L1076.40 1971.69L1078.20 1971.85L1080.00 1972.01L1081.80 1972.16L1083.60 1972.31L1085.40 1972.46L1087.20 1972.60L1089.00 1972.74L1090.80 1972.87L1092.60 1973.00L1094.40 1973.13L1096.20 1973.26L1098.00 1973.38L1099.80 1973.49L1101.60 1973.61L1103.40 1973.72L1105.20 1973.83L1107.00 1973.94L1108.80 1974.04L1110.60 1974.14L1112.40 1974.24L1114.20 1974.34L1116.00 1974.43L1117.80 1974.52L1119.60 1974.61L1121.40 1974.69L1123.20 1974.77L1125.00 1974.85L1126.80 1974.93L1128.60 1975.01L1130.40 1975.08L1132.20 1975.15L1134.00 1975.22L1135.80 1975.29L1137.60 1975.36L1139.40 1975.42L1141.20 1975.49L1143.00 1975.55L1144.80 1975.61L1146.60 1975.67L1148.40 1975.72L1150.20 1975.78L1152.00 1975.83L1153.80 1975.89L1155.60 1975.94L1157.40 1975.99L1159.20 1976.04L1161.00 1976.08L1162.80 1976.13L1164.60 1976.18L1166.40 1976.22L1168.20 1976.26L1170.00 1976.30L1171.80 1976.34L1173.60 1976.38L1175.40 1976.42L1177.20 1976.46L1179.00 1976.50L1180.80 1976.53L1182.60 1976.57L1184.40 1976.60L1186.20 1976.63L1188.00 1976.66L1189.80 1976.70L1191.60 1976.73L1193.40 1976.76L1195.20 1976.78L1197.00 1976.81L1198.80 1976.84L1200.60 1976.87L1202.40 1976.89L1204.20 1976.92L1206.00 1976.94L1207.80 1976.97L1209.60 1976.99L1211.40 1977.01L1213.20 1977.03L1215.00 1977.06L1216.80 1977.08L1218.60 1977.10L1220.40 1977.12L1222.20 1977.14L1224.00 1977.16L1225.80 1977.17L1227.60 1977.19L1229.40 1977.21L1231.20 1977.23L1233.00 1977.24L1234.80 1977.26L1236.60 1977.28L1238.40 1977.29L1240.20 1977.31L1242.00 1977.32L1243.80 1977.33L1245.60 1977.35L1247.40 1977.36L1249.20 1977.38L1251.00 1977.39L1252.80 1977.40L1254.60 1977.41L1256.40 1977.42L1258.20 1977.44L1260.00 1977.45L1261.80 1977.46L1263.60 1977.47L1265.40 1977.48L1267.20 1977.49L1269.00 1977.50L1270.80 1977.51L1272.60 1977.52L1274.40 1977.53L1276.20 1977.54L1278.00 1977.54L1279.80 1977.55L1281.60 1977.56L1283.40 1977.57L1285.20 1977.58L1287.00 1977.58L1288.80 1977.59L1290.60 1977.60L1292.40 1977.61L1294.20 1977.61L1296.00 1977.62L1297.80 1977.63L1299.60 1977.63L1301.40 1977.64L1303.20 1977.64L1305.00 1977.65L1306.80 1977.66L1308.60 1977.66L1310.40 1977.67L1312.20 1977.67L1314.00 1977.68L1315.80 1977.68L1317.60 1977.69L1319.40 1977.69L1321.20 1977.70L1323.00 1977.70L1324.80 1977.71L1326.60 1977.71L1328.40 1977.71L1330.20 1977.72L1332.00 1977.72L1333.80 1977.73L1335.60 1977.73L1337.40 1977.73L1339.20 1977.74L1341.00 1977.74L1342.80 1977.74L1344.60 1977.75L1346.40 1977.75L1348.20 1977.75L1350.00 1977.76L1351.80 1977.76L1353.60 1977.76L1355.40 1977.76L1357.20 1977.77L1359.00 1977.77L1360.80 1977.77L1362.60 1977.78L1364.40 1977.78L1366.20 1977.78L1368.00 1977.78L1369.80 1977.78L1371.60 1977.79L1373.40 1977.79L1375.20 1977.79L1377.00 1977.79L1378.80 1977.79L1380.60 1977.80L1382.40 1977.80L1384.20 1977.80L1386.00 1977.80"/>
<path stroke="#55aa00" stroke-dasharray="4.67 18.9" d="M126.00 1977.82L127.80 1977.82L129.60 1977.82L131.40 1977.82L133.20 1977.82L135.00 1977.82L136.80 1977.81L138.60 1977.81L140.40 1977.81L142.20 1977.81L144.00 1977.81L145.80 1977.81L147.60 1977.81L149.40 1977.80L151.20 1977.80L153.00 1977.80L154.80 1977.80L156.60 1977.80L158.40 1977.79L160.20 1977.79L162.00 1977.79L163.80 1977.79L165.60 1977.79L167.40 1977.78L169.20 1977.78L171.00 1977.78L172.80 1977.78L174.60 1977.77L176.40 1977.77L178.20 1977.77L180.00 1977.77L181.80 1977.76L183.60 1977.76L185.40 1977.76L187.20 1977.76L189.00 1977.75L190.80 1977.75L192.60 1977.75L194.40 1977.74L196.20 1977.74L198.00 1977.74L199.80 1977.73L201.60 1977.73L203.40 1977.72L205.20 1977.72L207.00 1977.72L208.80 1977.71L210.60 1977.71L212.40 1977.70L214.20 1977.70L216.00 1977.70L217.80 1977.69L219.60 1977.69L221.40 1977.68L223.20 1977.68L225.00 1977.67L226.80 1977.67L228.60 1977.66L230.40 1977.65L232.20 1977.65L234.00 1977.64L235.80 1977.64L237.60 1977.63L239.40 1977.62L241.20 1977.62L243.00 1977.61L244.80 1977.60L246.60 1977.60L248.40 1977.59L250.20 1977.58L252.00 1977.58L253.80 1977.57L255.60 1977.56L257.40 1977.55L259.20 1977.54L261.00 1977.53L262.80 1977.53L264.60 1977.52L266.40 1977.51L268.20 1977.50L270.00 1977.49L271.80 1977.48L273.60 1977.47L275.40 1977.46L277.20 1977.45L279.00 1977.43L280.80 1977.42L282.60 1977.41L284.40 1977.40L286.20 1977.39L288.00 1977.37L289.80 1977.36L291.60 1977.35L293.40 1977.33L295.20 1977.32L297.00 1977.30L298.80 1977.29L300.60 1977.27L302.40 1977.26L304.20 1977.24L306.00 1977.22L307.80 1977.21L309.60 1977.19L311.40 1977.17L313.20 1977.15L315.00 1977.13L316.80 1977.11L318.60 1977.09L320.40 1977.07L322.20 1977.05L324.00 1977.03L325.80 1977.01L327.60 1976.98L329.40 1976.96L331.20 1976.94L333.00 1976.91L334.80 1976.89L336.60 1976.86L338.40 1976.83L340.20 1976.81L342.00 1976.78L343.80 1976.75L345.60 1976.72L347.40 1976.69L349.20 1976.66L351.00 1976.63L352.80 1976.59L354.60 1976.56L356.40 1976.52L358.20 1976.49L360.00 1976.45L361.80 1976.41L363.60 1976.38L365.40 1976.34L367.20 1976.29L369.00 1976.25L370.80 1976.21L372.60 1976.17L374.40 1976.12L376.20 1976.07L378.00 1976.03L379.80 1975.98L381.60 1975.93L383.40 1975.88L385.20 1975.82L387.00 1975.77L388.80 1975.71L390.60 1975.66L392.40 1975.60L394.20 1975.54L396.00 1975.47L397.80 1975.41L399.60 1975.34L401.40 1975.27L403.20 1975.20L405.00 1975.13L406.80 1975.06L408.60 1974.98L410.40 1974.90L412.20 1974.82L414.00 1974.74L415.80 1974.66L417.60 1974.57L419.40 1974.48L421.20 1974.39L423.00 1974.29L424.80 1974.20L426.60 1974.10L428.40 1974.00L430.20 1973.90L432.00 1973.79L433.80 1973.68L435.60 1973.57L437.40 1973.45L439.20 1973.33L441.00 1973.21L442.80 1973.09L444.60 1972.96L446.40 1972.83L448.20 1972.70L450.00 1972.56L451.80 1972.42L453.60 1972.28L455.40 1972.13L457.20 1971.98L459.00 1971.82L460.80 1971.66L462.60 1971.50L464.40 1971.33L466.20 1971.16L468.00 1970.98L469.80 1970.80L471.60 1970.61L473.40 1970.42L475.20 1970.22L477.00 1970.02L478.80 1969.82L480.60 1969.61L482.40 1969.39L484.20 1969.17L486.00 1968.94L487.80 1968.71L489.60 1968.47L491.40 1968.22L493.20 1967.97L495.00 1967.71L496.80 1967.44L498.60 1967.17L500.40 1966.89L502.20 1966.60L504.00 1966.31L505.80 1966.01L507.60 1965.70L509.40 1965.38L511.20 1965.05L513.00 1964.72L514.80 1964.38L516.60 1964.02L518.40 1963.66L520.20 1963.29L522.00 1962.91L523.80 1962.52L525.60 1962.12L527.40 1961.71L529.20 1961.28L531.00 1960.85L532.80 1960.40L534.60 1959.95L536.40 1959.48L538.20 1958.99L540.00 1958.50L541.80 1957.99L543.60 1957.47L545.40 1956.93L547.20 1956.38L549.00 1955.81L550.80 1955.23L552.60 1954.63L554.40 1954.02L556.20 1953.39L558.00 1952.74L559.80 1952.08L561.60 1951.39L563.40 1950.69L565.20 1949.96L567.00 1949.22L568.80 1948.46L570.60 1947.67L572.40 1946.86L574.20 1946.03L576.00 1945.17L577.80 1944.29L579.60 1943.39L581.40 1942.46L583.20 1941.50L585.00 1940.51L586.80 1939.50L588.60 1938.46L590.40 1937.38L592.20 1936.28L594.00 1935.14L595.80 1933.97L597.60 1932.77L599.40 1931.53L601.20 1930.26L603.00 1928.95L604.80 1927.60L606.60 1926.22L608.40 1924.80L610.20 1923.33L612.00 1921.83L613.80 1920.29L615.60 1918.70L617.40 1917.08L619.20 1915.41L621.00 1913.69L622.80 1911.94L624.60 1910.14L626.40 1908.29L628.20 1906.40L630.00 1904.47L631.80 1902.49L633.60 1900.47L635.40 1898.40L637.20 1896.29L639.00 1894.13L640.80 1891.93L642.60 1889.69L644.40 1887.41L646.20 1885.08L648.00 1882.71L649.80 1880.29L651.60 1877.83L653.40 1875.32L655.20 1872.77L657.00 1870.16L658.80 1867.50L660.60 1864.78L662.40 1862.00L664.20 1859.16L666.00 1856.24L667.80 1853.25L669.60 1850.18L671.40 1847.02L673.20 1843.76L675.00 1840.39L676.80 1836.90L678.60 1833.28L680.40 1829.51L682.20 1825.59L684.00 1821.49L685.80 1817.19L687.60 1812.69L689.40 1807.96L691.20 1802.99L693.00 1797.78L694.80 1792.31L696.60 1786.58L698.40 1780.59L700.20 1774.35L702.00 1767.86L703.80 1761.14L705.60 1754.21L707.40 1747.07L709.20 1739.74L711.00 1732.25L712.80 1724.63L714.60 1716.89L716.40 1709.08L718.20 1701.22L720.00 1693.36L721.80 1685.53L723.60 1677.77L725.40 1670.13L727.20 1662.65L729.00 1655.37L729.36 1653.95L729.72 1652.53L730.08 1651.12L730.44 1649.73L730.80 1648.34L731.16 1646.97L731.52 1645.61L731.88 1644.26L732.24 1642.92L732.60 1641.60L732.96 1640.29L733.32 1638.99L733.68 1637.71L734.04 1636.44L734.40 1635.18L734.76 1633.94L735.12 1632.72L735.48 1631.51L735.84 1630.32L736.20 1629.14L736.56 1627.98L736.92 1626.83L737.28 1625.71L737.64 1624.60L738.00 1623.50L738.36 1622.43L738.72 1621.37L739.08 1620.33L739.44 1619.31L739.80 1618.31L740.16 1617.32L740.52 1616.36L740.88 1615.42L741.24 1614.49L741.60 1613.59L741.96 1612.70L742.32 1611.84L742.68 1610.99L743.04 1610.17L743.40 1609.37L743.76 1608.59L744.12 1607.83L744.48 1607.09L744.84 1606.38L745.20 1605.68L745.56 1605.01L745.92 1604.36L746.28 1603.73L746.64 1603.12L747.00 1602.54L747.36 1601.98L747.72 1601.44L748.08 1600.93L748.44 1600.44L748.80 1599.97L749.16 1599.52L749.52 1599.10L749.88 1598.70L750.24 1598.32L750.60 1597.97L750.96 1597.64L751.32 1597.34L751.68 1597.05L752.04 1596.79L752.40 1596.56L752.76 1596.35L753.12 1596.16L753.48 1595.99L753.84 1595.85L754.20 1595.73L754.56 1595.63L754.92 1595.57L755.28 1595.57L755.64 1595.57L756.00 1595.57L756.36 1595.57L756.72 1595.57L757.08 1595.57L757.44 1595.63L757.80 1595.73L758.16 1595.85L758.52 1595.99L758.88 1596.16L759.24 1596.35L759.60 1596.56L759.96 1596.79L760.32 1597.05L760.68 1597.34L761.04 1597.64L761.40 1597.97L761.76 1598.32L762.12 1598.70L762.48 1599.10L762.84 1599.52L763.20 1599.97L763.56 1600.44L763.92 1600.93L764.28 1601.44L764.64 1601.98L765.00 1602.54L765.36 1603.12L765.72 1603.73L766.08 1604.36L766.44 1605.01L766.80 1605.68L767.16 1606.38L767.52 1607.09L767.88 1607.83L768.24 1608.59L768.60 1609.37L768.96 1610.17L769.32 1610.99L769.68 1611.84L770.04 1612.70L770.40 1613.59L770.76 1614.49L771.12 1615.42L771.48 1616.36L771.84 1617.32L772.20 1618.31L772.56 1619.31L772.92 1620.33L773.28 1621.37L773.64 1622.43L774.00 1623.50L774.36 1624.60L774.72 1625.71L775.08 1626.83L775.44 1627.98L775.80 1629.14L776.16 1630.32L776.52 1631.51L776.88 1632.72L777.24 1633.94L777.60 1635.18L777.96 1636.44L778.32 1637.71L778.68 1638.99L779.04 1640.29L779.40 1641.60L779.76 1642.92L780.12 1644.26L780.48 1645.61L780.84 1646.97L781.20 1648.34L781.56 1649.73L781.92 1651.12L782.28 1652.53L782.64 1653.95L783.00 1655.37L784.80 1662.65L786.60 1670.13L788.40 1677.77L790.20 1685.53L792.00 1693.36L793.80 1701.22L795.60 1709.08L797.40 1716.89L799.20 1724.63L801.00 1732.25L802.80 1739.74L804.60 1747.07L806.40 1754.21L808.20 1761.14L810.00 1767.86L811.80 1774.35L813.60 1780.59L815.40 1786.58L817.20 1792.31L819.00 1797.78L820.80 1802.99L822.60 1807.96L824.40 1812.69L826.20 1817.19L828.00 1821.49L829.80 1825.59L831.60 1829.51L833.40 1833.28L835.20 1836.90L837.00 1840.39L838.80 1843.76L840.60 1847.02L842.40 1850.18L844.20 1853.25L846.00 1856.24L847.80 1859.16L849.60 1862.00L851.40 1864.78L853.20 1867.50L855.00 1870.16L856.80 1872.77L858.60 1875.32L860.40 1877.83L862.20 1880.29L864.00 1882.71L865.80 1885.08L867.60 1887.41L869.40 1889.69L871.20 1891.93L873.00 1894.13L874.80 1896.29L876.60 1898.40L878.40 1900.47L880.20 1902.49L882.00 1904.47L883.80 1906.40L885.60 1908.29L887.40 1910.14L889.20 1911.94L891.00 1913.69L892.80 1915.41L894.60 1917.08L896.40 1918.70L898.20 1920.29L900.00 1921.83L901.80 1923.33L903.60 1924.80L905.40 1926.22L907.20 1927.60L909.00 1928.95L910.80 1930.26L912.60 1931.53L914.40 1932.77L916.20 1933.97L918.00 1935.14L919.80 1936.28L921.60 1937.38L923.40 1938.46L925.20 1939.50L927.00 1940.51L928.80 1941.50L930.60 1942.46L932.40 1943.39L934.20 1944.29L936.00 1945.17L937.80 1946.03L939.60 1946.86L941.40 1947.67L943.20 1948.46L945.00 1949.22L946.80 1949.96L948.60 1950.69L950.40 1951.39L952.20 1952.08L954.00 1952.74L955.80 1953.39L957.60 1954.02L959.40 1954.63L961.20 1955.23L963.00 1955.81L964.80 1956.38L966.60 1956.93L968.40 1957.47L970.20 1957.99L972.00 1958.50L973.80 1958.99L975.60 1959.48L977.40 1959.95L979.20 1960.40L981.00 1960.85L982.80 1961.28L984.60 1961.71L986.40 1962.12L988.20 1962.52L990.00 1962.91L991.80 1963.29L993.60 1963.66L995.40 1964.02L997.20 1964.38L999.00 1964.72L1000.80 1965.05L1002.60 1965.38L1004.40 1965.70L1006.20 1966.01L1008.00 1966.31L1009.80 1966.60L1011.60 1966.89L1013.40 1967.17L1015.20 1967.44L1017.00 1967.71L1018.80 1967.97L1020.60 1968.22L1022.40 1968.47L1024.20 1968.71L1026.00 1968.94L1027.80 1969.17L1029.60 1969.39L1031.40 1969.61L1033.20 1969.82L1035.00 1970.02L1036.80 1970.22L1038.60 1970.42L1040.40 1970.61L1042.20 1970.80L1044.00 1970.98L1045.80 1971.16L1047.60 1971.33L1049.40 1971.50L1051.20 1971.66L1053.00 1971.82L1054.80 1971.98L1056.60 1972.13L1058.40 1972.28L1060.20 1972.42L1062.00 1972.56L1063.80 1972.70L1065.60 1972.83L1067.40 1972.96L1069.20 1973.09L1071.00 1973.21L1072.80 1973.33L1074.60 1973.45L1076.40 1973.57L1078.20 1973.68L1080.00 1973.79L1081.80 1973.90L1083.60 1974.00L1085.40 1974.10L1087.20 1974.20L1089.00 1974.29L1090.80 1974.39L1092.60 1974.48L1094.40 1974.57L1096.20 1974.66L1098.00 1974.74L1099.80 1974.82L1101.60 1974.90L1103.40 1974.98L1105.20 1975.06L1107.00 1975.13L1108.80 1975.20L1110.60 1975.27L1112.40 1975.34L1114.20 1975.41L1116.00 1975.47L1117.80 1975.54L1119.60 1975.60L1121.40 1975.66L1123.20 1975.71L1125.00 1975.77L1126.80 1975.82L1128.60 1975.88L1130.40 1975.93L1132.20 1975.98L1134.00 1976.03L1135.80 1976.07L1137.60 1976.12L1139.40 1976.17L1141.20 1976.21L1143.00 1976.25L1144.80 1976.29L1146.60 1976.34L1148.40 1976.38L1150.20 1976.41L1152.00 1976.45L1153.80 1976.49L1155.60 1976.52L1157.40 1976.56L1159.20 1976.59L1161.00 1976.63L1162.80 1976.66L1164.60 1976.69L1166.40 1976.72L1168.20 1976.75L1170.00 1976.78L1171.80 1976.81L1173.60 1976.83L1175.40 1976.86L1177.20 1976.89L1179.00 1976.91L1180.80 1976.94L1182.60 1976.96L1184.40 1976.98L1186.20 1977.01L1188.00 1977.03L1189.80 1977.05L1191.60 1977.07L1193.40 1977.09L1195.20 1977.11L1197.00 1977.13L1198.80 1977.15L1200.60 1977.17L1202.40 1977.19L1204.20 1977.21L1206.00 1977.22L1207.80 1977.24L1209.60 1977.26L1211.40 1977.27L1213.20 1977.29L1215.00 1977.30L1216.80 1977.32L1218.60 1977.33L1220.40 1977.35L1222.20 1977.36L1224.00 1977.37L1225.80 1977.39L1227.60 1977.40L1229.40 1977.41L1231.20 1977.42L1233.00 1977.43L1234.80 1977.45L1236.60 1977.46L1238.40 1977.47L1240.20 1977.48L1242.00 1977.49L1243.80 1977.50L1245.60 1977.51L1247.40 1977.52L1249.20 1977.53L1251.00 1977.53L1252.80 1977.54L1254.60 1977.55L1256.40 1977.56L1258.20 1977.57L1260.00 1977.58L1261.80 1977.58L1263.60 1977.59L1265.40 1977.60L1267.20 1977.60L1269.00 1977.61L1270.80 1977.62L1272.60 1977.62L1274.40 1977.63L1276.20 1977.64L1278.00 1977.64L1279.80 1977.65L1281.60 1977.65L1283.40 1977.66L1285.20 1977.67L1287.00 1977.67L1288.80 1977.68L1290.60 1977.68L1292.40 1977.69L1294.20 1977.69L1296.00 1977.70L1297.80 1977.70L1299.60 1977.70L1301.40 1977.71L1303.20 1977.71L1305.00 1977.72L1306.80 1977.72L1308.60 1977.72L1310.40 1977.73L1312.20 1977.73L1314.00 1977.74L1315.80 1977.74L1317.60 1977.74L1319.40 1977.75L1321.20 1977.75L1323.00 1977.75L1324.80 1977.76L1326.60 1977.76L1328.40 1977.76L1330.20 1977.76L1332.00 1977.77L1333.80 1977.77L1335.60 1977.77L1337.40 1977.77L1339.20 1977.78L1341.00 1977.78L1342.80 1977.78L1344.60 1977.78L1346.40 1977.79L1348.20 1977.79L1350.00 1977.79L1351.80 1977.79L1353.60 1977.79L1355.40 1977.80L1357.20 1977.80L1359.00 1977.80L1360.80 1977.80L1362.60 1977.80L1364.40 1977.81L1366.20 1977.81L1368.00 1977.81L1369.80 1977.81L1371.60 1977.81L1373.40 1977.81L1375.20 1977.81L1377.00 1977.82L1378.80 1977.82L1380.60 1977.82L1382.40 1977.82L1384.20 1977.82L1386.00 1977.82"/>
</g>
<g fill="#000" shape-rendering="crispEdges">
<rect x="125" y="1976" width="1261" height="4"/>
<rect x="754" y="1197" width="4" height="783"/>
<rect x="142" y="1968" width="4" height="8"/>
<rect x="178" y="1968" width="4" height="8"/>
<rect x="214" y="1962" width="4" height="14"/>
<rect x="250" y="1968" width="4" height="8"/>
<rect x="286" y="1968" width="4" height="8"/>
<rect x="322" y="1968" width="4" height="8"/>
<rect x="358" y="1968" width="4" height="8"/>
<rect x="394" y="1962" width="4" height="14"/>
<rect x="430" y="1968" width="4" height="8"/>
<rect x="466" y="1968" width="4" height="8"/>
<rect x="502" y="1968" width="4" height="8"/>
<rect x="538" y="1968" width="4" height="8"/>
<rect x="574" y="1962" width="4" height="14"/>
<rect x="610" y="1968" width="4" height="8"/>
<rect x="646" y="1968" width="4" height="8"/>
<rect x="682" y="1968" width="4" height="8"/>
<rect x="718" y="1968" width="4" height="8"/>
<rect x="790" y="1968" width="4" height="8"/>
<rect x="826" y="1968" width="4" height="8"/>
<rect x="862" y="1968" width="4" height="8"/>
<rect x="898" y="1968" width="4" height="8"/>
<rect x="934" y="1962" width="4" height="14"/>
<rect x="970" y="1968" width="4" height="8"/>
<rect x="1006" y="1968" width="4" height="8"/>
<rect x="1042" y="1968" width="4" height="8"/>
<rect x="1078" y="1968" width="4" height="8"/>
<rect x="1114" y="1962" width="4" height="14"/>
<rect x="1150" y="1968" width="4" height="8"/>
<rect x="1186" y="1968" width="4" height="8"/>
<rect x="1222" y="1968" width="4" height="8"/>
<rect x="1258" y="1968" width="4" height="8"/>
<rect x="1294" y="1962" width="4" height="14"/>
<rect x="1330" y="1968" width="4" height="8"/>
<rect x="1366" y="1968" width="4" height="8"/>
<rect x="758" y="1937" width="7" height="4"/>
<rect x="758" y="1898" width="7" height="4"/>
<rect x="758" y="1859" width="7" height="4"/>
<rect x="758" y="1820" width="7" height="4"/>
<rect x="758" y="1781" width="13" height="4"/>
<rect x="758" y="1743" width="7" height="3"/>
<rect x="758" y="1704" width="7" height="3"/>
<rect x="758" y="1665" width="7" height="3"/>
<rect x="758" y="1626" width="7" height="3"/>
<rect x="758" y="1587" width="13" height="3"/>
<rect x="758" y="1548" width="7" height="3"/>
<rect x="758" y="1509" width="7" height="3"/>
<rect x="758" y="1470" width="7" height="3"/>
<rect x="758" y="1431" width="7" height="3"/>
<rect x="758" y="1392" width="13" height="3"/>
<rect x="758" y="1353" width="7" height="4"/>
<rect x="758" y="1314" width="7" height="4"/>
<rect x="758" y="1275" width="7" height="4"/>
<rect x="758" y="1236" width="7" height="4"/>
<rect x="758" y="1197" width="13" height="4"/>
</g>
<g fill="#000" stroke="#000" stroke-width="0.5" text-rendering="geometricPrecision" font-family="'Liberation Serif','Times New Roman',Times,serif">
<text><tspan x="675.49" y="1217.20" font-size="66" textLength="34.65" lengthAdjust="spacingAndGlyphs">2</tspan><tspan x="708.57" y="1217.20" font-size="66" textLength="33.86" lengthAdjust="spacingAndGlyphs">0</tspan></text>
<text><tspan x="676.88" y="1412.20" font-size="66" textLength="30.36" lengthAdjust="spacingAndGlyphs">1</tspan><tspan x="707.52" y="1412.20" font-size="66" textLength="34.65" lengthAdjust="spacingAndGlyphs">5</tspan></text>
<text><tspan x="676.88" y="1607.20" font-size="66" textLength="30.36" lengthAdjust="spacingAndGlyphs">1</tspan><tspan x="708.57" y="1607.20" font-size="66" textLength="33.86" lengthAdjust="spacingAndGlyphs">0</tspan></text>
<text><tspan x="707.52" y="1801.20" font-size="66" textLength="34.65" lengthAdjust="spacingAndGlyphs">5</tspan></text>
<text><tspan x="162.49" y="2057.10" font-size="72" textLength="40.84" lengthAdjust="spacingAndGlyphs" stroke-width="0.4">−</tspan><tspan x="200.77" y="2050.20" font-size="66" textLength="33.82" lengthAdjust="spacingAndGlyphs">3</tspan><tspan x="236.57" y="2050.20" font-size="66" textLength="33.86" lengthAdjust="spacingAndGlyphs">0</tspan></text>
<text><tspan x="342.49" y="2057.10" font-size="72" textLength="40.84" lengthAdjust="spacingAndGlyphs" stroke-width="0.4">−</tspan><tspan x="383.51" y="2050.20" font-size="66" textLength="34.65" lengthAdjust="spacingAndGlyphs">2</tspan><tspan x="416.57" y="2050.20" font-size="66" textLength="33.86" lengthAdjust="spacingAndGlyphs">0</tspan></text>
<text><tspan x="522.49" y="2057.10" font-size="72" textLength="40.84" lengthAdjust="spacingAndGlyphs" stroke-width="0.4">−</tspan><tspan x="564.98" y="2050.20" font-size="66" textLength="30.36" lengthAdjust="spacingAndGlyphs">1</tspan><tspan x="596.57" y="2050.20" font-size="66" textLength="33.86" lengthAdjust="spacingAndGlyphs">0</tspan></text>
<text><tspan x="903.98" y="2050.20" font-size="66" textLength="30.36" lengthAdjust="spacingAndGlyphs">1</tspan><tspan x="935.57" y="2050.20" font-size="66" textLength="33.86" lengthAdjust="spacingAndGlyphs">0</tspan></text>
<text><tspan x="1082.51" y="2050.20" font-size="66" textLength="34.65" lengthAdjust="spacingAndGlyphs">2</tspan><tspan x="1115.57" y="2050.20" font-size="66" textLength="33.86" lengthAdjust="spacingAndGlyphs">0</tspan></text>
<text><tspan x="1259.74" y="2050.20" font-size="66" textLength="33.82" lengthAdjust="spacingAndGlyphs">3</tspan><tspan x="1295.57" y="2050.20" font-size="66" textLength="33.86" lengthAdjust="spacingAndGlyphs">0</tspan></text>
<text><tspan x="1424.44" y="1997.00" font-size="63.6" textLength="28.29" lengthAdjust="spacingAndGlyphs">z</tspan><tspan x="1453.45" y="1995.10" font-size="60.3" textLength="20.49" lengthAdjust="spacingAndGlyphs">(</tspan><tspan x="1473.78" y="1997.00" font-size="63.6" textLength="33.07" lengthAdjust="spacingAndGlyphs">n</tspan><tspan x="1506.53" y="1997.00" font-size="63.6" textLength="52.47" lengthAdjust="spacingAndGlyphs">m</tspan><tspan x="1559.04" y="1995.10" font-size="60.3" textLength="20.75" lengthAdjust="spacingAndGlyphs">)</tspan></text>
<text><tspan x="615.96" y="1149.00" font-size="65" textLength="42.00" lengthAdjust="spacingAndGlyphs" font-style="italic">E</tspan><tspan x="655.76" y="1160.60" font-size="46.5" textLength="17.79" lengthAdjust="spacingAndGlyphs" font-style="italic">z</tspan><tspan x="676.35" y="1147.10" font-size="60.3" textLength="20.49" lengthAdjust="spacingAndGlyphs">(</tspan><tspan x="696.18" y="1149.00" font-size="65" textLength="60.88" lengthAdjust="spacingAndGlyphs">M</tspan><tspan x="756.65" y="1149.00" font-size="65" textLength="44.90" lengthAdjust="spacingAndGlyphs">V</tspan><tspan x="804.10" y="1159.00" font-size="81.5" textLength="20.75" lengthAdjust="spacingAndGlyphs">/</tspan><tspan x="824.64" y="1149.00" font-size="63.6" textLength="52.42" lengthAdjust="spacingAndGlyphs">m</tspan><tspan x="876.04" y="1147.10" font-size="60.3" textLength="20.75" lengthAdjust="spacingAndGlyphs">)</tspan></text>
<text><tspan x="223.83" y="1263.90" font-size="74.5" textLength="24.38" lengthAdjust="spacingAndGlyphs">(</tspan><tspan x="250.15" y="1266.10" font-size="79.1" textLength="39.83" lengthAdjust="spacingAndGlyphs">b</tspan><tspan x="288.92" y="1263.90" font-size="74.5" textLength="25.15" lengthAdjust="spacingAndGlyphs">)</tspan></text>
</g>
</svg>
</body>
</html>
